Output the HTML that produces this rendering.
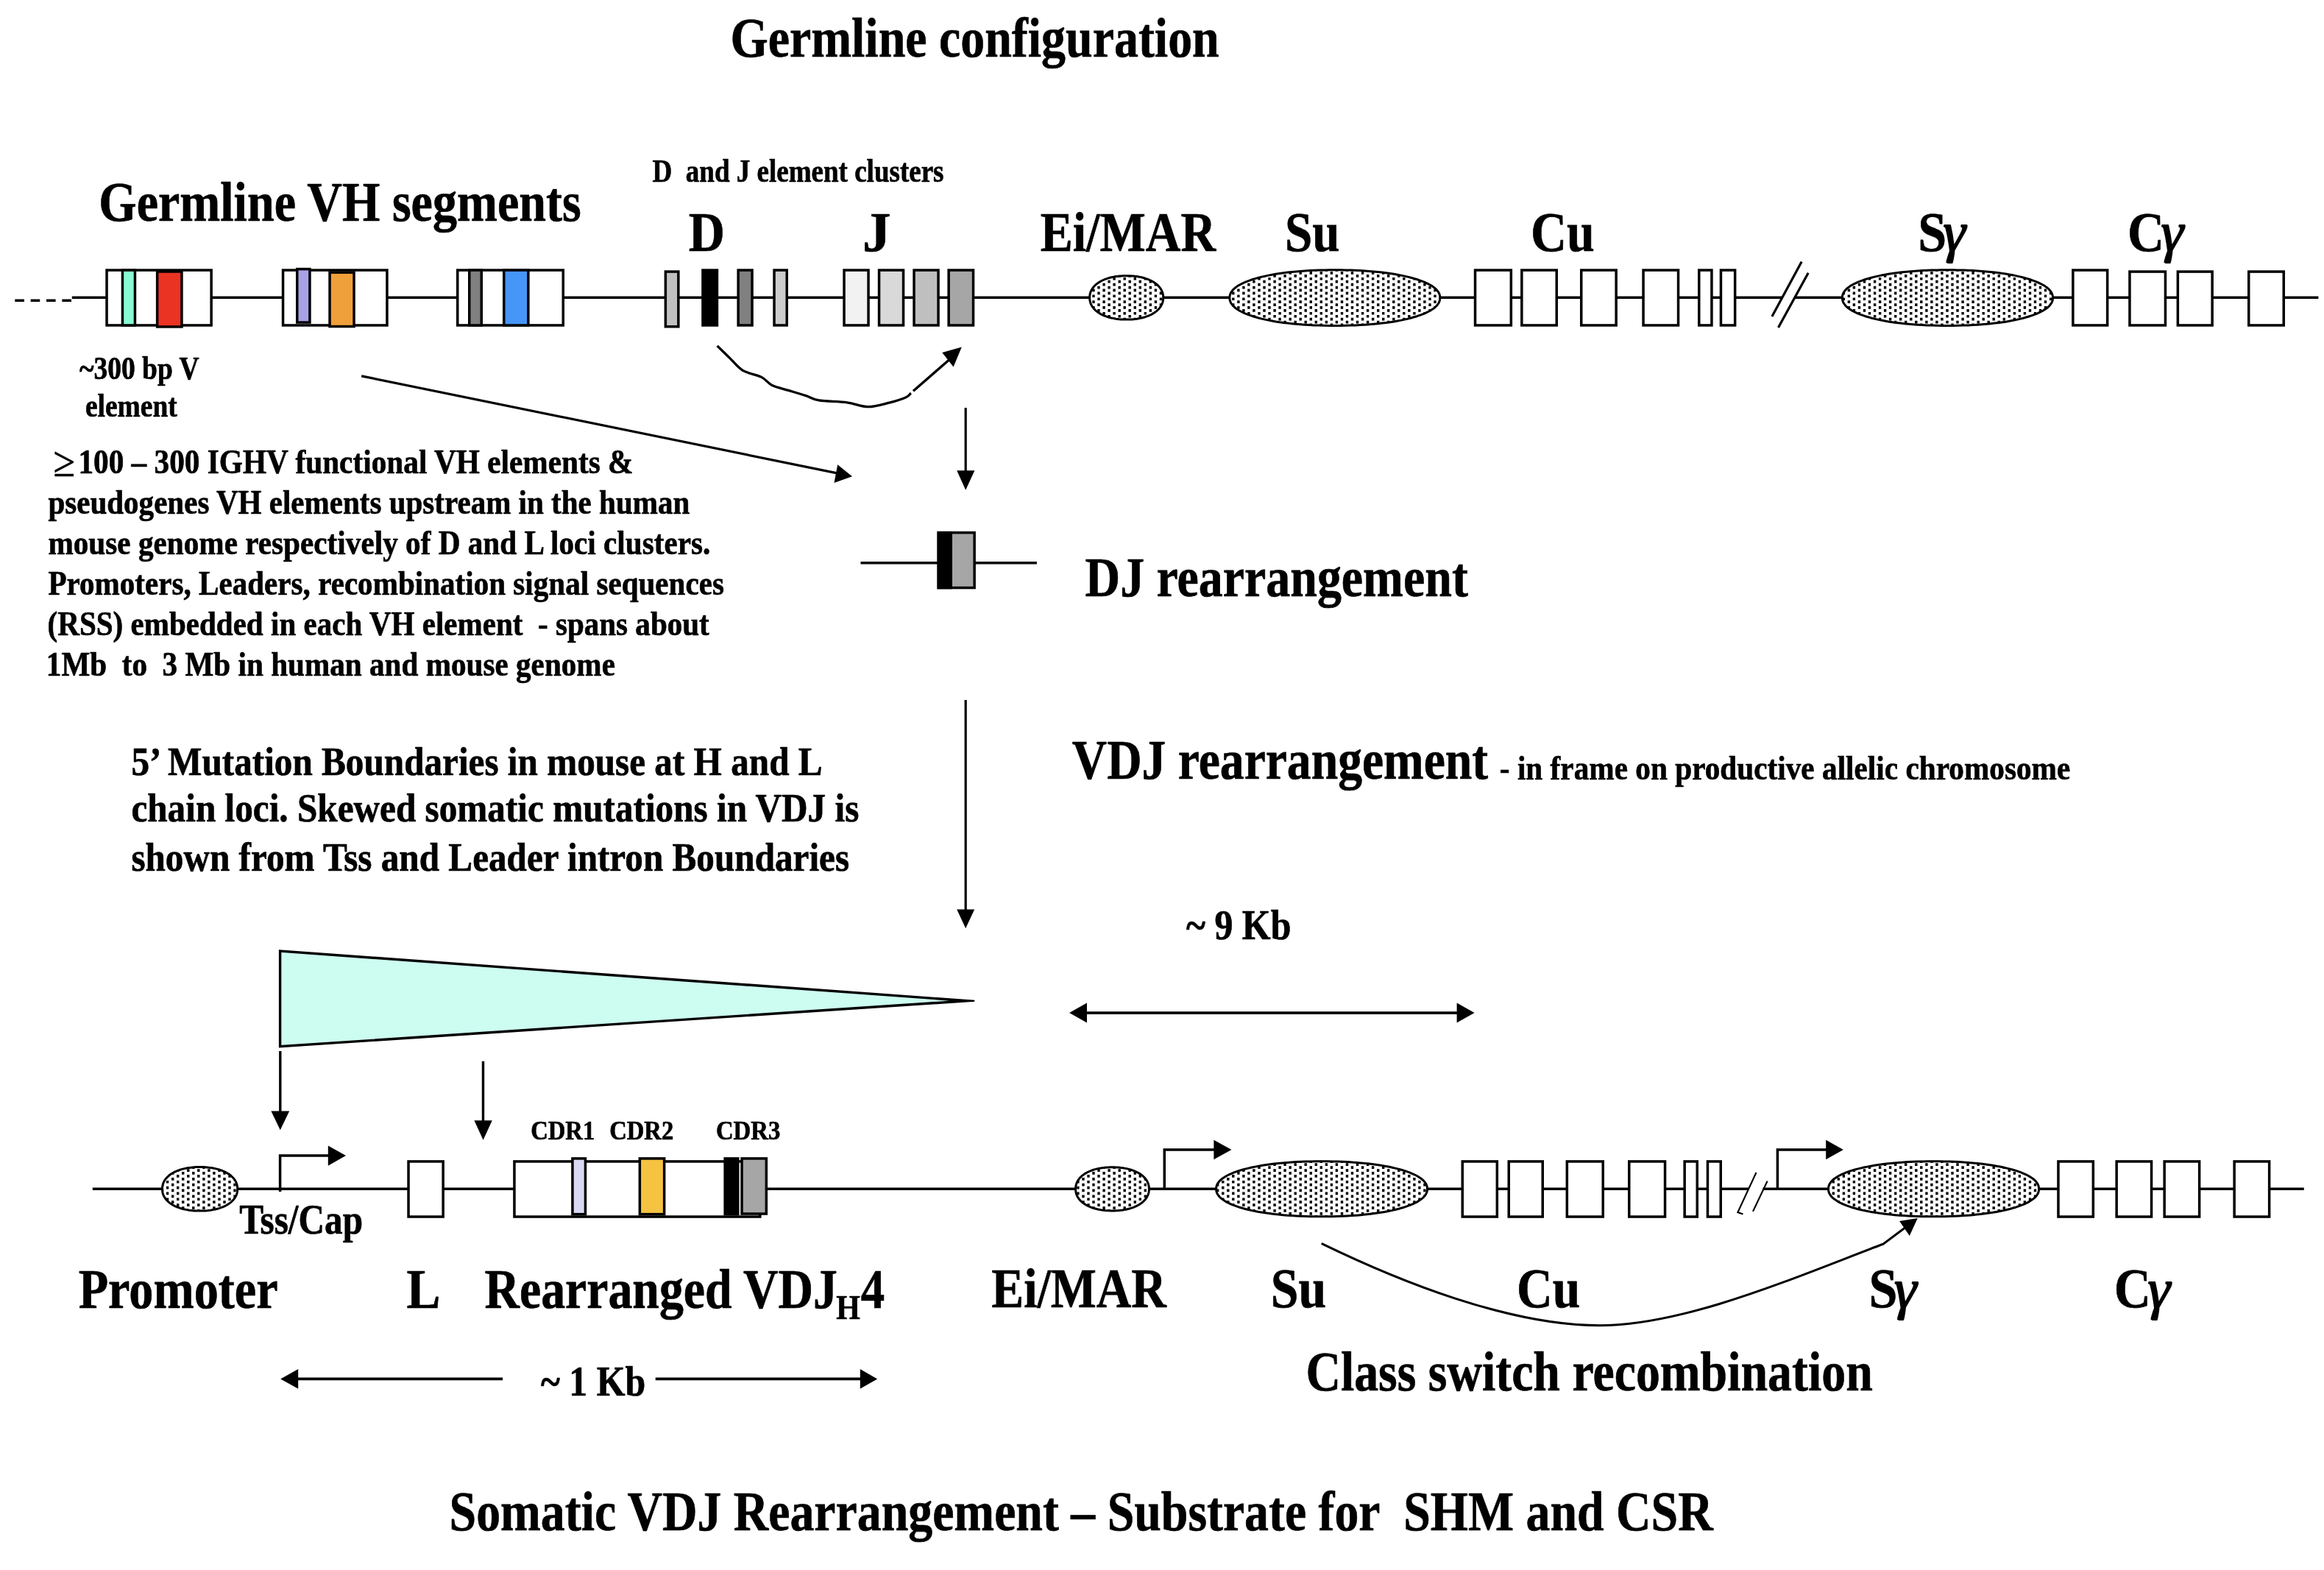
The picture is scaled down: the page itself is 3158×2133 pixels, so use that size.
<!DOCTYPE html>
<html><head><meta charset="utf-8"><title>Germline configuration</title>
<style>html,body{margin:0;padding:0;background:#fff}svg{display:block}text{font-family:"Liberation Serif",serif;font-weight:bold;fill:#000;stroke:#000;stroke-width:0.7px;stroke-linejoin:round;white-space:pre}</style>
</head><body>
<svg width="3158" height="2133" viewBox="0 0 3158 2133">
<defs></defs>
<rect width="3158" height="2133" fill="#fff"/>
<g>
<line x1="20.30" y1="408.25" x2="97.90" y2="408.25" stroke="#000" stroke-width="3.5" stroke-dasharray="12.6 8.75"/>
<line x1="97.80" y1="404.35" x2="2421.50" y2="404.35" stroke="#000" stroke-width="3.5" />
<line x1="2439.00" y1="404.35" x2="3150.40" y2="404.35" stroke="#000" stroke-width="3.5" />
<rect x="145.05" y="367.05" width="142.10" height="74.90" fill="#fff" stroke="#000" stroke-width="3.5"/>
<rect x="166.45" y="367.05" width="17.00" height="74.90" fill="#87fad4" stroke="#000" stroke-width="3.5"/>
<rect x="213.65" y="368.95" width="33.30" height="75.00" fill="#eb3323" stroke="#000" stroke-width="3.5"/>
<rect x="384.55" y="367.05" width="141.40" height="74.90" fill="#fff" stroke="#000" stroke-width="3.5"/>
<rect x="403.75" y="365.55" width="17.20" height="72.50" fill="#a7a2e6" stroke="#000" stroke-width="3.5"/>
<rect x="448.05" y="370.15" width="33.00" height="73.40" fill="#f0a03a" stroke="#000" stroke-width="3.5"/>
<rect x="621.75" y="367.05" width="143.50" height="74.90" fill="#fff" stroke="#000" stroke-width="3.5"/>
<rect x="637.75" y="367.05" width="16.50" height="74.90" fill="#808080" stroke="#000" stroke-width="3.5"/>
<rect x="684.75" y="367.05" width="33.10" height="74.90" fill="#4596f7" stroke="#000" stroke-width="3.5"/>
<rect x="904.35" y="369.05" width="17.50" height="74.70" fill="#c0c0c0" stroke="#000" stroke-width="3.5"/>
<rect x="954.95" y="367.05" width="19.50" height="74.90" fill="#000" stroke="#000" stroke-width="3.5"/>
<rect x="1003.15" y="367.05" width="18.90" height="74.90" fill="#808080" stroke="#000" stroke-width="3.5"/>
<rect x="1052.05" y="367.05" width="17.20" height="74.90" fill="#cccccc" stroke="#000" stroke-width="3.5"/>
<rect x="1147.05" y="367.05" width="33.00" height="74.90" fill="#f2f2f2" stroke="#000" stroke-width="3.5"/>
<rect x="1194.55" y="367.05" width="33.00" height="74.90" fill="#d9d9d9" stroke="#000" stroke-width="3.5"/>
<rect x="1242.05" y="367.05" width="33.00" height="74.90" fill="#bfbfbf" stroke="#000" stroke-width="3.5"/>
<rect x="1289.15" y="367.05" width="33.40" height="74.90" fill="#a6a6a6" stroke="#000" stroke-width="3.5"/>
<defs><path id="e1p" d="M1580.7,404.4L1580.7,406.0L1580.5,407.5L1580.3,408.9L1580.0,410.2L1579.6,411.6L1579.1,412.8L1578.5,414.1L1577.9,415.3L1577.1,416.6L1576.3,417.7L1575.4,418.9L1574.4,420.0L1573.4,421.1L1572.2,422.1L1571.0,423.1L1569.7,424.1L1568.4,425.0L1566.9,425.9L1565.4,426.8L1563.8,427.6L1562.2,428.3L1560.5,429.1L1558.8,429.7L1556.9,430.4L1555.1,431.0L1553.1,431.5L1551.2,432.0L1549.1,432.4L1547.1,432.8L1544.9,433.2L1542.7,433.4L1540.5,433.7L1538.2,433.9L1535.9,434.0L1533.4,434.1L1530.7,434.1L1528.0,434.1L1525.5,434.0L1523.2,433.9L1520.9,433.7L1518.7,433.4L1516.5,433.2L1514.3,432.8L1512.3,432.4L1510.2,432.0L1508.3,431.5L1506.3,431.0L1504.5,430.4L1502.6,429.7L1500.9,429.1L1499.2,428.3L1497.6,427.6L1496.0,426.8L1494.5,425.9L1493.0,425.0L1491.7,424.1L1490.4,423.1L1489.2,422.1L1488.0,421.1L1487.0,420.0L1486.0,418.9L1485.1,417.7L1484.3,416.6L1483.5,415.3L1482.9,414.1L1482.3,412.8L1481.8,411.6L1481.4,410.2L1481.1,408.9L1480.9,407.5L1480.7,406.0L1480.7,404.4L1480.7,402.8L1480.9,401.3L1481.1,399.9L1481.4,398.6L1481.8,397.2L1482.3,396.0L1482.9,394.7L1483.5,393.5L1484.3,392.2L1485.1,391.1L1486.0,389.9L1487.0,388.8L1488.0,387.7L1489.2,386.7L1490.4,385.7L1491.7,384.7L1493.0,383.8L1494.5,382.9L1496.0,382.0L1497.6,381.2L1499.2,380.5L1500.9,379.7L1502.6,379.1L1504.5,378.4L1506.3,377.8L1508.3,377.3L1510.2,376.8L1512.3,376.4L1514.3,376.0L1516.5,375.6L1518.7,375.4L1520.9,375.1L1523.2,374.9L1525.5,374.8L1528.0,374.7L1530.7,374.7L1533.4,374.7L1535.9,374.8L1538.2,374.9L1540.5,375.1L1542.7,375.4L1544.9,375.6L1547.1,376.0L1549.1,376.4L1551.2,376.8L1553.1,377.3L1555.1,377.8L1556.9,378.4L1558.8,379.1L1560.5,379.7L1562.2,380.5L1563.8,381.2L1565.4,382.0L1566.9,382.9L1568.4,383.8L1569.7,384.7L1571.0,385.7L1572.2,386.7L1573.4,387.7L1574.4,388.8L1575.4,389.9L1576.3,391.1L1577.1,392.2L1577.9,393.5L1578.5,394.7L1579.1,396.0L1579.6,397.2L1580.0,398.6L1580.3,399.9L1580.5,401.3L1580.7,402.8Z"/><clipPath id="e1"><use href="#e1p"/></clipPath></defs><use href="#e1p" fill="#fff"/><path clip-path="url(#e1)" d="M1519.5,373.0h3.4v3.7h-3.4zM1533.5,373.0h3.4v3.7h-3.4zM1547.6,373.0h3.4v3.7h-3.4zM1498.4,376.9h3.4v3.7h-3.4zM1512.4,376.9h3.4v3.7h-3.4zM1526.5,376.9h3.4v3.7h-3.4zM1540.6,376.9h3.4v3.7h-3.4zM1554.6,376.9h3.4v3.7h-3.4zM1491.3,380.8h3.4v3.7h-3.4zM1505.4,380.8h3.4v3.7h-3.4zM1519.5,380.8h3.4v3.7h-3.4zM1533.5,380.8h3.4v3.7h-3.4zM1547.6,380.8h3.4v3.7h-3.4zM1561.6,380.8h3.4v3.7h-3.4zM1498.4,384.8h3.4v3.7h-3.4zM1512.4,384.8h3.4v3.7h-3.4zM1526.5,384.8h3.4v3.7h-3.4zM1540.6,384.8h3.4v3.7h-3.4zM1554.6,384.8h3.4v3.7h-3.4zM1568.7,384.8h3.4v3.7h-3.4zM1491.3,388.7h3.4v3.7h-3.4zM1505.4,388.7h3.4v3.7h-3.4zM1519.5,388.7h3.4v3.7h-3.4zM1533.5,388.7h3.4v3.7h-3.4zM1547.6,388.7h3.4v3.7h-3.4zM1561.6,388.7h3.4v3.7h-3.4zM1575.7,388.7h3.4v3.7h-3.4zM1484.3,392.6h3.4v3.7h-3.4zM1498.4,392.6h3.4v3.7h-3.4zM1512.4,392.6h3.4v3.7h-3.4zM1526.5,392.6h3.4v3.7h-3.4zM1540.6,392.6h3.4v3.7h-3.4zM1554.6,392.6h3.4v3.7h-3.4zM1568.7,392.6h3.4v3.7h-3.4zM1477.3,396.5h3.4v3.7h-3.4zM1491.3,396.5h3.4v3.7h-3.4zM1505.4,396.5h3.4v3.7h-3.4zM1519.5,396.5h3.4v3.7h-3.4zM1533.5,396.5h3.4v3.7h-3.4zM1547.6,396.5h3.4v3.7h-3.4zM1561.6,396.5h3.4v3.7h-3.4zM1575.7,396.5h3.4v3.7h-3.4zM1484.3,400.4h3.4v3.7h-3.4zM1498.4,400.4h3.4v3.7h-3.4zM1512.4,400.4h3.4v3.7h-3.4zM1526.5,400.4h3.4v3.7h-3.4zM1540.6,400.4h3.4v3.7h-3.4zM1554.6,400.4h3.4v3.7h-3.4zM1568.7,400.4h3.4v3.7h-3.4zM1477.3,404.4h3.4v3.7h-3.4zM1491.3,404.4h3.4v3.7h-3.4zM1505.4,404.4h3.4v3.7h-3.4zM1519.5,404.4h3.4v3.7h-3.4zM1533.5,404.4h3.4v3.7h-3.4zM1547.6,404.4h3.4v3.7h-3.4zM1561.6,404.4h3.4v3.7h-3.4zM1575.7,404.4h3.4v3.7h-3.4zM1484.3,408.3h3.4v3.7h-3.4zM1498.4,408.3h3.4v3.7h-3.4zM1512.4,408.3h3.4v3.7h-3.4zM1526.5,408.3h3.4v3.7h-3.4zM1540.6,408.3h3.4v3.7h-3.4zM1554.6,408.3h3.4v3.7h-3.4zM1568.7,408.3h3.4v3.7h-3.4zM1491.3,412.2h3.4v3.7h-3.4zM1505.4,412.2h3.4v3.7h-3.4zM1519.5,412.2h3.4v3.7h-3.4zM1533.5,412.2h3.4v3.7h-3.4zM1547.6,412.2h3.4v3.7h-3.4zM1561.6,412.2h3.4v3.7h-3.4zM1575.7,412.2h3.4v3.7h-3.4zM1484.3,416.1h3.4v3.7h-3.4zM1498.4,416.1h3.4v3.7h-3.4zM1512.4,416.1h3.4v3.7h-3.4zM1526.5,416.1h3.4v3.7h-3.4zM1540.6,416.1h3.4v3.7h-3.4zM1554.6,416.1h3.4v3.7h-3.4zM1568.7,416.1h3.4v3.7h-3.4zM1491.3,420.0h3.4v3.7h-3.4zM1505.4,420.0h3.4v3.7h-3.4zM1519.5,420.0h3.4v3.7h-3.4zM1533.5,420.0h3.4v3.7h-3.4zM1547.6,420.0h3.4v3.7h-3.4zM1561.6,420.0h3.4v3.7h-3.4zM1498.4,423.9h3.4v3.7h-3.4zM1512.4,423.9h3.4v3.7h-3.4zM1526.5,423.9h3.4v3.7h-3.4zM1540.6,423.9h3.4v3.7h-3.4zM1554.6,423.9h3.4v3.7h-3.4zM1568.7,423.9h3.4v3.7h-3.4zM1505.4,427.9h3.4v3.7h-3.4zM1519.5,427.9h3.4v3.7h-3.4zM1533.5,427.9h3.4v3.7h-3.4zM1547.6,427.9h3.4v3.7h-3.4zM1561.6,427.9h3.4v3.7h-3.4zM1512.4,431.8h3.4v3.7h-3.4zM1526.5,431.8h3.4v3.7h-3.4zM1540.6,431.8h3.4v3.7h-3.4z" fill="#000"/><use href="#e1p" fill="none" stroke="#000" stroke-width="3.0" stroke-linejoin="round"/>
<defs><path id="e2p" d="M1956.8,404.6L1956.7,406.7L1956.3,408.5L1955.7,410.3L1954.8,412.0L1953.6,413.7L1952.3,415.4L1950.6,417.0L1948.8,418.5L1946.7,420.1L1944.3,421.6L1941.7,423.0L1938.9,424.4L1935.9,425.8L1932.6,427.1L1929.1,428.4L1925.4,429.7L1921.5,430.8L1917.4,432.0L1913.1,433.1L1908.6,434.1L1903.9,435.1L1899.1,436.0L1894.1,436.9L1888.9,437.7L1883.5,438.4L1878.0,439.1L1872.3,439.7L1866.5,440.3L1860.6,440.8L1854.5,441.2L1848.3,441.6L1841.9,441.9L1835.4,442.1L1828.6,442.3L1821.6,442.4L1813.9,442.4L1806.1,442.4L1799.1,442.3L1792.3,442.1L1785.8,441.9L1779.4,441.6L1773.2,441.2L1767.1,440.8L1761.2,440.3L1755.4,439.7L1749.7,439.1L1744.2,438.4L1738.8,437.7L1733.6,436.9L1728.6,436.0L1723.8,435.1L1719.1,434.1L1714.6,433.1L1710.3,432.0L1706.2,430.8L1702.3,429.7L1698.6,428.4L1695.1,427.1L1691.8,425.8L1688.8,424.4L1686.0,423.0L1683.4,421.6L1681.0,420.1L1678.9,418.5L1677.1,417.0L1675.4,415.4L1674.1,413.7L1672.9,412.0L1672.0,410.3L1671.4,408.5L1671.0,406.7L1670.9,404.6L1671.0,402.5L1671.4,400.7L1672.0,398.9L1672.9,397.2L1674.1,395.5L1675.4,393.8L1677.1,392.2L1678.9,390.7L1681.0,389.1L1683.4,387.6L1686.0,386.2L1688.8,384.8L1691.8,383.4L1695.1,382.1L1698.6,380.8L1702.3,379.5L1706.2,378.4L1710.3,377.2L1714.6,376.1L1719.1,375.1L1723.8,374.1L1728.6,373.2L1733.6,372.3L1738.8,371.5L1744.2,370.8L1749.7,370.1L1755.4,369.5L1761.2,368.9L1767.1,368.4L1773.2,368.0L1779.4,367.6L1785.8,367.3L1792.3,367.1L1799.1,366.9L1806.1,366.8L1813.8,366.8L1821.6,366.8L1828.6,366.9L1835.4,367.1L1841.9,367.3L1848.3,367.6L1854.5,368.0L1860.6,368.4L1866.5,368.9L1872.3,369.5L1878.0,370.1L1883.5,370.8L1888.9,371.5L1894.1,372.3L1899.1,373.2L1903.9,374.1L1908.6,375.1L1913.1,376.1L1917.4,377.2L1921.5,378.4L1925.4,379.5L1929.1,380.8L1932.6,382.1L1935.9,383.4L1938.9,384.8L1941.7,386.2L1944.3,387.6L1946.7,389.1L1948.8,390.7L1950.6,392.2L1952.3,393.8L1953.6,395.5L1954.8,397.2L1955.7,398.9L1956.3,400.7L1956.7,402.5Z"/><clipPath id="e2"><use href="#e2p"/></clipPath></defs><use href="#e2p" fill="#fff"/><path clip-path="url(#e2)" d="M1758.5,365.1h3.4v3.7h-3.4zM1772.5,365.1h3.4v3.7h-3.4zM1786.6,365.1h3.4v3.7h-3.4zM1800.7,365.1h3.4v3.7h-3.4zM1814.7,365.1h3.4v3.7h-3.4zM1828.8,365.1h3.4v3.7h-3.4zM1842.8,365.1h3.4v3.7h-3.4zM1856.9,365.1h3.4v3.7h-3.4zM1737.4,369.1h3.4v3.7h-3.4zM1751.5,369.1h3.4v3.7h-3.4zM1765.5,369.1h3.4v3.7h-3.4zM1779.6,369.1h3.4v3.7h-3.4zM1793.6,369.1h3.4v3.7h-3.4zM1807.7,369.1h3.4v3.7h-3.4zM1821.8,369.1h3.4v3.7h-3.4zM1835.8,369.1h3.4v3.7h-3.4zM1849.9,369.1h3.4v3.7h-3.4zM1863.9,369.1h3.4v3.7h-3.4zM1878.0,369.1h3.4v3.7h-3.4zM1892.1,369.1h3.4v3.7h-3.4zM1716.3,373.0h3.4v3.7h-3.4zM1730.4,373.0h3.4v3.7h-3.4zM1744.4,373.0h3.4v3.7h-3.4zM1758.5,373.0h3.4v3.7h-3.4zM1772.5,373.0h3.4v3.7h-3.4zM1786.6,373.0h3.4v3.7h-3.4zM1800.7,373.0h3.4v3.7h-3.4zM1814.7,373.0h3.4v3.7h-3.4zM1828.8,373.0h3.4v3.7h-3.4zM1842.8,373.0h3.4v3.7h-3.4zM1856.9,373.0h3.4v3.7h-3.4zM1871.0,373.0h3.4v3.7h-3.4zM1885.0,373.0h3.4v3.7h-3.4zM1899.1,373.0h3.4v3.7h-3.4zM1709.3,376.9h3.4v3.7h-3.4zM1723.3,376.9h3.4v3.7h-3.4zM1737.4,376.9h3.4v3.7h-3.4zM1751.5,376.9h3.4v3.7h-3.4zM1765.5,376.9h3.4v3.7h-3.4zM1779.6,376.9h3.4v3.7h-3.4zM1793.6,376.9h3.4v3.7h-3.4zM1807.7,376.9h3.4v3.7h-3.4zM1821.8,376.9h3.4v3.7h-3.4zM1835.8,376.9h3.4v3.7h-3.4zM1849.9,376.9h3.4v3.7h-3.4zM1863.9,376.9h3.4v3.7h-3.4zM1878.0,376.9h3.4v3.7h-3.4zM1892.1,376.9h3.4v3.7h-3.4zM1906.1,376.9h3.4v3.7h-3.4zM1920.2,376.9h3.4v3.7h-3.4zM1702.2,380.8h3.4v3.7h-3.4zM1716.3,380.8h3.4v3.7h-3.4zM1730.4,380.8h3.4v3.7h-3.4zM1744.4,380.8h3.4v3.7h-3.4zM1758.5,380.8h3.4v3.7h-3.4zM1772.5,380.8h3.4v3.7h-3.4zM1786.6,380.8h3.4v3.7h-3.4zM1800.7,380.8h3.4v3.7h-3.4zM1814.7,380.8h3.4v3.7h-3.4zM1828.8,380.8h3.4v3.7h-3.4zM1842.8,380.8h3.4v3.7h-3.4zM1856.9,380.8h3.4v3.7h-3.4zM1871.0,380.8h3.4v3.7h-3.4zM1885.0,380.8h3.4v3.7h-3.4zM1899.1,380.8h3.4v3.7h-3.4zM1913.1,380.8h3.4v3.7h-3.4zM1927.2,380.8h3.4v3.7h-3.4zM1695.2,384.8h3.4v3.7h-3.4zM1709.3,384.8h3.4v3.7h-3.4zM1723.3,384.8h3.4v3.7h-3.4zM1737.4,384.8h3.4v3.7h-3.4zM1751.5,384.8h3.4v3.7h-3.4zM1765.5,384.8h3.4v3.7h-3.4zM1779.6,384.8h3.4v3.7h-3.4zM1793.6,384.8h3.4v3.7h-3.4zM1807.7,384.8h3.4v3.7h-3.4zM1821.8,384.8h3.4v3.7h-3.4zM1835.8,384.8h3.4v3.7h-3.4zM1849.9,384.8h3.4v3.7h-3.4zM1863.9,384.8h3.4v3.7h-3.4zM1878.0,384.8h3.4v3.7h-3.4zM1892.1,384.8h3.4v3.7h-3.4zM1906.1,384.8h3.4v3.7h-3.4zM1920.2,384.8h3.4v3.7h-3.4zM1934.2,384.8h3.4v3.7h-3.4zM1688.2,388.7h3.4v3.7h-3.4zM1702.2,388.7h3.4v3.7h-3.4zM1716.3,388.7h3.4v3.7h-3.4zM1730.4,388.7h3.4v3.7h-3.4zM1744.4,388.7h3.4v3.7h-3.4zM1758.5,388.7h3.4v3.7h-3.4zM1772.5,388.7h3.4v3.7h-3.4zM1786.6,388.7h3.4v3.7h-3.4zM1800.7,388.7h3.4v3.7h-3.4zM1814.7,388.7h3.4v3.7h-3.4zM1828.8,388.7h3.4v3.7h-3.4zM1842.8,388.7h3.4v3.7h-3.4zM1856.9,388.7h3.4v3.7h-3.4zM1871.0,388.7h3.4v3.7h-3.4zM1885.0,388.7h3.4v3.7h-3.4zM1899.1,388.7h3.4v3.7h-3.4zM1913.1,388.7h3.4v3.7h-3.4zM1927.2,388.7h3.4v3.7h-3.4zM1941.3,388.7h3.4v3.7h-3.4zM1681.2,392.6h3.4v3.7h-3.4zM1695.2,392.6h3.4v3.7h-3.4zM1709.3,392.6h3.4v3.7h-3.4zM1723.3,392.6h3.4v3.7h-3.4zM1737.4,392.6h3.4v3.7h-3.4zM1751.5,392.6h3.4v3.7h-3.4zM1765.5,392.6h3.4v3.7h-3.4zM1779.6,392.6h3.4v3.7h-3.4zM1793.6,392.6h3.4v3.7h-3.4zM1807.7,392.6h3.4v3.7h-3.4zM1821.8,392.6h3.4v3.7h-3.4zM1835.8,392.6h3.4v3.7h-3.4zM1849.9,392.6h3.4v3.7h-3.4zM1863.9,392.6h3.4v3.7h-3.4zM1878.0,392.6h3.4v3.7h-3.4zM1892.1,392.6h3.4v3.7h-3.4zM1906.1,392.6h3.4v3.7h-3.4zM1920.2,392.6h3.4v3.7h-3.4zM1934.2,392.6h3.4v3.7h-3.4zM1948.3,392.6h3.4v3.7h-3.4zM1674.1,396.5h3.4v3.7h-3.4zM1688.2,396.5h3.4v3.7h-3.4zM1702.2,396.5h3.4v3.7h-3.4zM1716.3,396.5h3.4v3.7h-3.4zM1730.4,396.5h3.4v3.7h-3.4zM1744.4,396.5h3.4v3.7h-3.4zM1758.5,396.5h3.4v3.7h-3.4zM1772.5,396.5h3.4v3.7h-3.4zM1786.6,396.5h3.4v3.7h-3.4zM1800.7,396.5h3.4v3.7h-3.4zM1814.7,396.5h3.4v3.7h-3.4zM1828.8,396.5h3.4v3.7h-3.4zM1842.8,396.5h3.4v3.7h-3.4zM1856.9,396.5h3.4v3.7h-3.4zM1871.0,396.5h3.4v3.7h-3.4zM1885.0,396.5h3.4v3.7h-3.4zM1899.1,396.5h3.4v3.7h-3.4zM1913.1,396.5h3.4v3.7h-3.4zM1927.2,396.5h3.4v3.7h-3.4zM1941.3,396.5h3.4v3.7h-3.4zM1955.3,396.5h3.4v3.7h-3.4zM1667.1,400.4h3.4v3.7h-3.4zM1681.2,400.4h3.4v3.7h-3.4zM1695.2,400.4h3.4v3.7h-3.4zM1709.3,400.4h3.4v3.7h-3.4zM1723.3,400.4h3.4v3.7h-3.4zM1737.4,400.4h3.4v3.7h-3.4zM1751.5,400.4h3.4v3.7h-3.4zM1765.5,400.4h3.4v3.7h-3.4zM1779.6,400.4h3.4v3.7h-3.4zM1793.6,400.4h3.4v3.7h-3.4zM1807.7,400.4h3.4v3.7h-3.4zM1821.8,400.4h3.4v3.7h-3.4zM1835.8,400.4h3.4v3.7h-3.4zM1849.9,400.4h3.4v3.7h-3.4zM1863.9,400.4h3.4v3.7h-3.4zM1878.0,400.4h3.4v3.7h-3.4zM1892.1,400.4h3.4v3.7h-3.4zM1906.1,400.4h3.4v3.7h-3.4zM1920.2,400.4h3.4v3.7h-3.4zM1934.2,400.4h3.4v3.7h-3.4zM1948.3,400.4h3.4v3.7h-3.4zM1674.1,404.4h3.4v3.7h-3.4zM1688.2,404.4h3.4v3.7h-3.4zM1702.2,404.4h3.4v3.7h-3.4zM1716.3,404.4h3.4v3.7h-3.4zM1730.4,404.4h3.4v3.7h-3.4zM1744.4,404.4h3.4v3.7h-3.4zM1758.5,404.4h3.4v3.7h-3.4zM1772.5,404.4h3.4v3.7h-3.4zM1786.6,404.4h3.4v3.7h-3.4zM1800.7,404.4h3.4v3.7h-3.4zM1814.7,404.4h3.4v3.7h-3.4zM1828.8,404.4h3.4v3.7h-3.4zM1842.8,404.4h3.4v3.7h-3.4zM1856.9,404.4h3.4v3.7h-3.4zM1871.0,404.4h3.4v3.7h-3.4zM1885.0,404.4h3.4v3.7h-3.4zM1899.1,404.4h3.4v3.7h-3.4zM1913.1,404.4h3.4v3.7h-3.4zM1927.2,404.4h3.4v3.7h-3.4zM1941.3,404.4h3.4v3.7h-3.4zM1955.3,404.4h3.4v3.7h-3.4zM1681.2,408.3h3.4v3.7h-3.4zM1695.2,408.3h3.4v3.7h-3.4zM1709.3,408.3h3.4v3.7h-3.4zM1723.3,408.3h3.4v3.7h-3.4zM1737.4,408.3h3.4v3.7h-3.4zM1751.5,408.3h3.4v3.7h-3.4zM1765.5,408.3h3.4v3.7h-3.4zM1779.6,408.3h3.4v3.7h-3.4zM1793.6,408.3h3.4v3.7h-3.4zM1807.7,408.3h3.4v3.7h-3.4zM1821.8,408.3h3.4v3.7h-3.4zM1835.8,408.3h3.4v3.7h-3.4zM1849.9,408.3h3.4v3.7h-3.4zM1863.9,408.3h3.4v3.7h-3.4zM1878.0,408.3h3.4v3.7h-3.4zM1892.1,408.3h3.4v3.7h-3.4zM1906.1,408.3h3.4v3.7h-3.4zM1920.2,408.3h3.4v3.7h-3.4zM1934.2,408.3h3.4v3.7h-3.4zM1948.3,408.3h3.4v3.7h-3.4zM1674.1,412.2h3.4v3.7h-3.4zM1688.2,412.2h3.4v3.7h-3.4zM1702.2,412.2h3.4v3.7h-3.4zM1716.3,412.2h3.4v3.7h-3.4zM1730.4,412.2h3.4v3.7h-3.4zM1744.4,412.2h3.4v3.7h-3.4zM1758.5,412.2h3.4v3.7h-3.4zM1772.5,412.2h3.4v3.7h-3.4zM1786.6,412.2h3.4v3.7h-3.4zM1800.7,412.2h3.4v3.7h-3.4zM1814.7,412.2h3.4v3.7h-3.4zM1828.8,412.2h3.4v3.7h-3.4zM1842.8,412.2h3.4v3.7h-3.4zM1856.9,412.2h3.4v3.7h-3.4zM1871.0,412.2h3.4v3.7h-3.4zM1885.0,412.2h3.4v3.7h-3.4zM1899.1,412.2h3.4v3.7h-3.4zM1913.1,412.2h3.4v3.7h-3.4zM1927.2,412.2h3.4v3.7h-3.4zM1941.3,412.2h3.4v3.7h-3.4zM1681.2,416.1h3.4v3.7h-3.4zM1695.2,416.1h3.4v3.7h-3.4zM1709.3,416.1h3.4v3.7h-3.4zM1723.3,416.1h3.4v3.7h-3.4zM1737.4,416.1h3.4v3.7h-3.4zM1751.5,416.1h3.4v3.7h-3.4zM1765.5,416.1h3.4v3.7h-3.4zM1779.6,416.1h3.4v3.7h-3.4zM1793.6,416.1h3.4v3.7h-3.4zM1807.7,416.1h3.4v3.7h-3.4zM1821.8,416.1h3.4v3.7h-3.4zM1835.8,416.1h3.4v3.7h-3.4zM1849.9,416.1h3.4v3.7h-3.4zM1863.9,416.1h3.4v3.7h-3.4zM1878.0,416.1h3.4v3.7h-3.4zM1892.1,416.1h3.4v3.7h-3.4zM1906.1,416.1h3.4v3.7h-3.4zM1920.2,416.1h3.4v3.7h-3.4zM1934.2,416.1h3.4v3.7h-3.4zM1948.3,416.1h3.4v3.7h-3.4zM1688.2,420.0h3.4v3.7h-3.4zM1702.2,420.0h3.4v3.7h-3.4zM1716.3,420.0h3.4v3.7h-3.4zM1730.4,420.0h3.4v3.7h-3.4zM1744.4,420.0h3.4v3.7h-3.4zM1758.5,420.0h3.4v3.7h-3.4zM1772.5,420.0h3.4v3.7h-3.4zM1786.6,420.0h3.4v3.7h-3.4zM1800.7,420.0h3.4v3.7h-3.4zM1814.7,420.0h3.4v3.7h-3.4zM1828.8,420.0h3.4v3.7h-3.4zM1842.8,420.0h3.4v3.7h-3.4zM1856.9,420.0h3.4v3.7h-3.4zM1871.0,420.0h3.4v3.7h-3.4zM1885.0,420.0h3.4v3.7h-3.4zM1899.1,420.0h3.4v3.7h-3.4zM1913.1,420.0h3.4v3.7h-3.4zM1927.2,420.0h3.4v3.7h-3.4zM1941.3,420.0h3.4v3.7h-3.4zM1695.2,423.9h3.4v3.7h-3.4zM1709.3,423.9h3.4v3.7h-3.4zM1723.3,423.9h3.4v3.7h-3.4zM1737.4,423.9h3.4v3.7h-3.4zM1751.5,423.9h3.4v3.7h-3.4zM1765.5,423.9h3.4v3.7h-3.4zM1779.6,423.9h3.4v3.7h-3.4zM1793.6,423.9h3.4v3.7h-3.4zM1807.7,423.9h3.4v3.7h-3.4zM1821.8,423.9h3.4v3.7h-3.4zM1835.8,423.9h3.4v3.7h-3.4zM1849.9,423.9h3.4v3.7h-3.4zM1863.9,423.9h3.4v3.7h-3.4zM1878.0,423.9h3.4v3.7h-3.4zM1892.1,423.9h3.4v3.7h-3.4zM1906.1,423.9h3.4v3.7h-3.4zM1920.2,423.9h3.4v3.7h-3.4zM1934.2,423.9h3.4v3.7h-3.4zM1702.2,427.9h3.4v3.7h-3.4zM1716.3,427.9h3.4v3.7h-3.4zM1730.4,427.9h3.4v3.7h-3.4zM1744.4,427.9h3.4v3.7h-3.4zM1758.5,427.9h3.4v3.7h-3.4zM1772.5,427.9h3.4v3.7h-3.4zM1786.6,427.9h3.4v3.7h-3.4zM1800.7,427.9h3.4v3.7h-3.4zM1814.7,427.9h3.4v3.7h-3.4zM1828.8,427.9h3.4v3.7h-3.4zM1842.8,427.9h3.4v3.7h-3.4zM1856.9,427.9h3.4v3.7h-3.4zM1871.0,427.9h3.4v3.7h-3.4zM1885.0,427.9h3.4v3.7h-3.4zM1899.1,427.9h3.4v3.7h-3.4zM1913.1,427.9h3.4v3.7h-3.4zM1723.3,431.8h3.4v3.7h-3.4zM1737.4,431.8h3.4v3.7h-3.4zM1751.5,431.8h3.4v3.7h-3.4zM1765.5,431.8h3.4v3.7h-3.4zM1779.6,431.8h3.4v3.7h-3.4zM1793.6,431.8h3.4v3.7h-3.4zM1807.7,431.8h3.4v3.7h-3.4zM1821.8,431.8h3.4v3.7h-3.4zM1835.8,431.8h3.4v3.7h-3.4zM1849.9,431.8h3.4v3.7h-3.4zM1863.9,431.8h3.4v3.7h-3.4zM1878.0,431.8h3.4v3.7h-3.4zM1892.1,431.8h3.4v3.7h-3.4zM1906.1,431.8h3.4v3.7h-3.4zM1730.4,435.7h3.4v3.7h-3.4zM1744.4,435.7h3.4v3.7h-3.4zM1758.5,435.7h3.4v3.7h-3.4zM1772.5,435.7h3.4v3.7h-3.4zM1786.6,435.7h3.4v3.7h-3.4zM1800.7,435.7h3.4v3.7h-3.4zM1814.7,435.7h3.4v3.7h-3.4zM1828.8,435.7h3.4v3.7h-3.4zM1842.8,435.7h3.4v3.7h-3.4zM1856.9,435.7h3.4v3.7h-3.4zM1871.0,435.7h3.4v3.7h-3.4zM1885.0,435.7h3.4v3.7h-3.4zM1751.5,439.6h3.4v3.7h-3.4zM1765.5,439.6h3.4v3.7h-3.4zM1779.6,439.6h3.4v3.7h-3.4zM1793.6,439.6h3.4v3.7h-3.4zM1807.7,439.6h3.4v3.7h-3.4zM1821.8,439.6h3.4v3.7h-3.4zM1835.8,439.6h3.4v3.7h-3.4zM1849.9,439.6h3.4v3.7h-3.4zM1863.9,439.6h3.4v3.7h-3.4z" fill="#000"/><use href="#e2p" fill="none" stroke="#000" stroke-width="3.0" stroke-linejoin="round"/>
<defs><path id="e3p" d="M2789.5,404.6L2789.4,406.7L2789.0,408.5L2788.4,410.3L2787.5,412.0L2786.3,413.7L2785.0,415.4L2783.3,417.0L2781.5,418.5L2779.3,420.1L2777.0,421.6L2774.4,423.0L2771.6,424.4L2768.5,425.8L2765.3,427.1L2761.8,428.4L2758.1,429.7L2754.2,430.8L2750.1,432.0L2745.8,433.1L2741.3,434.1L2736.6,435.1L2731.7,436.0L2726.7,436.9L2721.5,437.7L2716.2,438.4L2710.6,439.1L2705.0,439.7L2699.2,440.3L2693.2,440.8L2687.1,441.2L2680.9,441.6L2674.5,441.9L2668.0,442.1L2661.2,442.3L2654.2,442.4L2646.4,442.4L2638.7,442.4L2631.7,442.3L2624.9,442.1L2618.4,441.9L2612.0,441.6L2605.8,441.2L2599.7,440.8L2593.7,440.3L2587.9,439.7L2582.3,439.1L2576.7,438.4L2571.4,437.7L2566.2,436.9L2561.2,436.0L2556.3,435.1L2551.6,434.1L2547.1,433.1L2542.8,432.0L2538.7,430.8L2534.8,429.7L2531.1,428.4L2527.6,427.1L2524.4,425.8L2521.3,424.4L2518.5,423.0L2515.9,421.6L2513.6,420.1L2511.4,418.5L2509.6,417.0L2507.9,415.4L2506.6,413.7L2505.4,412.0L2504.5,410.3L2503.9,408.5L2503.5,406.7L2503.4,404.6L2503.5,402.5L2503.9,400.7L2504.5,398.9L2505.4,397.2L2506.6,395.5L2507.9,393.8L2509.6,392.2L2511.4,390.7L2513.6,389.1L2515.9,387.6L2518.5,386.2L2521.3,384.8L2524.4,383.4L2527.6,382.1L2531.1,380.8L2534.8,379.5L2538.7,378.4L2542.8,377.2L2547.1,376.1L2551.6,375.1L2556.3,374.1L2561.2,373.2L2566.2,372.3L2571.4,371.5L2576.7,370.8L2582.3,370.1L2587.9,369.5L2593.7,368.9L2599.7,368.4L2605.8,368.0L2612.0,367.6L2618.4,367.3L2624.9,367.1L2631.7,366.9L2638.7,366.8L2646.4,366.8L2654.2,366.8L2661.2,366.9L2668.0,367.1L2674.5,367.3L2680.9,367.6L2687.1,368.0L2693.2,368.4L2699.2,368.9L2705.0,369.5L2710.6,370.1L2716.2,370.8L2721.5,371.5L2726.7,372.3L2731.7,373.2L2736.6,374.1L2741.3,375.1L2745.8,376.1L2750.1,377.2L2754.2,378.4L2758.1,379.5L2761.8,380.8L2765.3,382.1L2768.5,383.4L2771.6,384.8L2774.4,386.2L2777.0,387.6L2779.3,389.1L2781.5,390.7L2783.3,392.2L2785.0,393.8L2786.3,395.5L2787.5,397.2L2788.4,398.9L2789.0,400.7L2789.4,402.5Z"/><clipPath id="e3"><use href="#e3p"/></clipPath></defs><use href="#e3p" fill="#fff"/><path clip-path="url(#e3)" d="M2602.1,365.1h3.4v3.7h-3.4zM2616.2,365.1h3.4v3.7h-3.4zM2630.2,365.1h3.4v3.7h-3.4zM2644.3,365.1h3.4v3.7h-3.4zM2658.3,365.1h3.4v3.7h-3.4zM2672.4,365.1h3.4v3.7h-3.4zM2686.5,365.1h3.4v3.7h-3.4zM2700.5,365.1h3.4v3.7h-3.4zM2566.9,369.1h3.4v3.7h-3.4zM2581.0,369.1h3.4v3.7h-3.4zM2595.1,369.1h3.4v3.7h-3.4zM2609.1,369.1h3.4v3.7h-3.4zM2623.2,369.1h3.4v3.7h-3.4zM2637.2,369.1h3.4v3.7h-3.4zM2651.3,369.1h3.4v3.7h-3.4zM2665.4,369.1h3.4v3.7h-3.4zM2679.4,369.1h3.4v3.7h-3.4zM2693.5,369.1h3.4v3.7h-3.4zM2707.5,369.1h3.4v3.7h-3.4zM2721.6,369.1h3.4v3.7h-3.4zM2545.9,373.0h3.4v3.7h-3.4zM2559.9,373.0h3.4v3.7h-3.4zM2574.0,373.0h3.4v3.7h-3.4zM2588.0,373.0h3.4v3.7h-3.4zM2602.1,373.0h3.4v3.7h-3.4zM2616.2,373.0h3.4v3.7h-3.4zM2630.2,373.0h3.4v3.7h-3.4zM2644.3,373.0h3.4v3.7h-3.4zM2658.3,373.0h3.4v3.7h-3.4zM2672.4,373.0h3.4v3.7h-3.4zM2686.5,373.0h3.4v3.7h-3.4zM2700.5,373.0h3.4v3.7h-3.4zM2714.6,373.0h3.4v3.7h-3.4zM2728.6,373.0h3.4v3.7h-3.4zM2742.7,373.0h3.4v3.7h-3.4zM2538.8,376.9h3.4v3.7h-3.4zM2552.9,376.9h3.4v3.7h-3.4zM2566.9,376.9h3.4v3.7h-3.4zM2581.0,376.9h3.4v3.7h-3.4zM2595.1,376.9h3.4v3.7h-3.4zM2609.1,376.9h3.4v3.7h-3.4zM2623.2,376.9h3.4v3.7h-3.4zM2637.2,376.9h3.4v3.7h-3.4zM2651.3,376.9h3.4v3.7h-3.4zM2665.4,376.9h3.4v3.7h-3.4zM2679.4,376.9h3.4v3.7h-3.4zM2693.5,376.9h3.4v3.7h-3.4zM2707.5,376.9h3.4v3.7h-3.4zM2721.6,376.9h3.4v3.7h-3.4zM2735.7,376.9h3.4v3.7h-3.4zM2749.7,376.9h3.4v3.7h-3.4zM2531.8,380.8h3.4v3.7h-3.4zM2545.9,380.8h3.4v3.7h-3.4zM2559.9,380.8h3.4v3.7h-3.4zM2574.0,380.8h3.4v3.7h-3.4zM2588.0,380.8h3.4v3.7h-3.4zM2602.1,380.8h3.4v3.7h-3.4zM2616.2,380.8h3.4v3.7h-3.4zM2630.2,380.8h3.4v3.7h-3.4zM2644.3,380.8h3.4v3.7h-3.4zM2658.3,380.8h3.4v3.7h-3.4zM2672.4,380.8h3.4v3.7h-3.4zM2686.5,380.8h3.4v3.7h-3.4zM2700.5,380.8h3.4v3.7h-3.4zM2714.6,380.8h3.4v3.7h-3.4zM2728.6,380.8h3.4v3.7h-3.4zM2742.7,380.8h3.4v3.7h-3.4zM2756.8,380.8h3.4v3.7h-3.4zM2524.8,384.8h3.4v3.7h-3.4zM2538.8,384.8h3.4v3.7h-3.4zM2552.9,384.8h3.4v3.7h-3.4zM2566.9,384.8h3.4v3.7h-3.4zM2581.0,384.8h3.4v3.7h-3.4zM2595.1,384.8h3.4v3.7h-3.4zM2609.1,384.8h3.4v3.7h-3.4zM2623.2,384.8h3.4v3.7h-3.4zM2637.2,384.8h3.4v3.7h-3.4zM2651.3,384.8h3.4v3.7h-3.4zM2665.4,384.8h3.4v3.7h-3.4zM2679.4,384.8h3.4v3.7h-3.4zM2693.5,384.8h3.4v3.7h-3.4zM2707.5,384.8h3.4v3.7h-3.4zM2721.6,384.8h3.4v3.7h-3.4zM2735.7,384.8h3.4v3.7h-3.4zM2749.7,384.8h3.4v3.7h-3.4zM2763.8,384.8h3.4v3.7h-3.4zM2517.7,388.7h3.4v3.7h-3.4zM2531.8,388.7h3.4v3.7h-3.4zM2545.9,388.7h3.4v3.7h-3.4zM2559.9,388.7h3.4v3.7h-3.4zM2574.0,388.7h3.4v3.7h-3.4zM2588.0,388.7h3.4v3.7h-3.4zM2602.1,388.7h3.4v3.7h-3.4zM2616.2,388.7h3.4v3.7h-3.4zM2630.2,388.7h3.4v3.7h-3.4zM2644.3,388.7h3.4v3.7h-3.4zM2658.3,388.7h3.4v3.7h-3.4zM2672.4,388.7h3.4v3.7h-3.4zM2686.5,388.7h3.4v3.7h-3.4zM2700.5,388.7h3.4v3.7h-3.4zM2714.6,388.7h3.4v3.7h-3.4zM2728.6,388.7h3.4v3.7h-3.4zM2742.7,388.7h3.4v3.7h-3.4zM2756.8,388.7h3.4v3.7h-3.4zM2770.8,388.7h3.4v3.7h-3.4zM2510.7,392.6h3.4v3.7h-3.4zM2524.8,392.6h3.4v3.7h-3.4zM2538.8,392.6h3.4v3.7h-3.4zM2552.9,392.6h3.4v3.7h-3.4zM2566.9,392.6h3.4v3.7h-3.4zM2581.0,392.6h3.4v3.7h-3.4zM2595.1,392.6h3.4v3.7h-3.4zM2609.1,392.6h3.4v3.7h-3.4zM2623.2,392.6h3.4v3.7h-3.4zM2637.2,392.6h3.4v3.7h-3.4zM2651.3,392.6h3.4v3.7h-3.4zM2665.4,392.6h3.4v3.7h-3.4zM2679.4,392.6h3.4v3.7h-3.4zM2693.5,392.6h3.4v3.7h-3.4zM2707.5,392.6h3.4v3.7h-3.4zM2721.6,392.6h3.4v3.7h-3.4zM2735.7,392.6h3.4v3.7h-3.4zM2749.7,392.6h3.4v3.7h-3.4zM2763.8,392.6h3.4v3.7h-3.4zM2777.8,392.6h3.4v3.7h-3.4zM2503.7,396.5h3.4v3.7h-3.4zM2517.7,396.5h3.4v3.7h-3.4zM2531.8,396.5h3.4v3.7h-3.4zM2545.9,396.5h3.4v3.7h-3.4zM2559.9,396.5h3.4v3.7h-3.4zM2574.0,396.5h3.4v3.7h-3.4zM2588.0,396.5h3.4v3.7h-3.4zM2602.1,396.5h3.4v3.7h-3.4zM2616.2,396.5h3.4v3.7h-3.4zM2630.2,396.5h3.4v3.7h-3.4zM2644.3,396.5h3.4v3.7h-3.4zM2658.3,396.5h3.4v3.7h-3.4zM2672.4,396.5h3.4v3.7h-3.4zM2686.5,396.5h3.4v3.7h-3.4zM2700.5,396.5h3.4v3.7h-3.4zM2714.6,396.5h3.4v3.7h-3.4zM2728.6,396.5h3.4v3.7h-3.4zM2742.7,396.5h3.4v3.7h-3.4zM2756.8,396.5h3.4v3.7h-3.4zM2770.8,396.5h3.4v3.7h-3.4zM2784.9,396.5h3.4v3.7h-3.4zM2510.7,400.4h3.4v3.7h-3.4zM2524.8,400.4h3.4v3.7h-3.4zM2538.8,400.4h3.4v3.7h-3.4zM2552.9,400.4h3.4v3.7h-3.4zM2566.9,400.4h3.4v3.7h-3.4zM2581.0,400.4h3.4v3.7h-3.4zM2595.1,400.4h3.4v3.7h-3.4zM2609.1,400.4h3.4v3.7h-3.4zM2623.2,400.4h3.4v3.7h-3.4zM2637.2,400.4h3.4v3.7h-3.4zM2651.3,400.4h3.4v3.7h-3.4zM2665.4,400.4h3.4v3.7h-3.4zM2679.4,400.4h3.4v3.7h-3.4zM2693.5,400.4h3.4v3.7h-3.4zM2707.5,400.4h3.4v3.7h-3.4zM2721.6,400.4h3.4v3.7h-3.4zM2735.7,400.4h3.4v3.7h-3.4zM2749.7,400.4h3.4v3.7h-3.4zM2763.8,400.4h3.4v3.7h-3.4zM2777.8,400.4h3.4v3.7h-3.4zM2503.7,404.4h3.4v3.7h-3.4zM2517.7,404.4h3.4v3.7h-3.4zM2531.8,404.4h3.4v3.7h-3.4zM2545.9,404.4h3.4v3.7h-3.4zM2559.9,404.4h3.4v3.7h-3.4zM2574.0,404.4h3.4v3.7h-3.4zM2588.0,404.4h3.4v3.7h-3.4zM2602.1,404.4h3.4v3.7h-3.4zM2616.2,404.4h3.4v3.7h-3.4zM2630.2,404.4h3.4v3.7h-3.4zM2644.3,404.4h3.4v3.7h-3.4zM2658.3,404.4h3.4v3.7h-3.4zM2672.4,404.4h3.4v3.7h-3.4zM2686.5,404.4h3.4v3.7h-3.4zM2700.5,404.4h3.4v3.7h-3.4zM2714.6,404.4h3.4v3.7h-3.4zM2728.6,404.4h3.4v3.7h-3.4zM2742.7,404.4h3.4v3.7h-3.4zM2756.8,404.4h3.4v3.7h-3.4zM2770.8,404.4h3.4v3.7h-3.4zM2784.9,404.4h3.4v3.7h-3.4zM2510.7,408.3h3.4v3.7h-3.4zM2524.8,408.3h3.4v3.7h-3.4zM2538.8,408.3h3.4v3.7h-3.4zM2552.9,408.3h3.4v3.7h-3.4zM2566.9,408.3h3.4v3.7h-3.4zM2581.0,408.3h3.4v3.7h-3.4zM2595.1,408.3h3.4v3.7h-3.4zM2609.1,408.3h3.4v3.7h-3.4zM2623.2,408.3h3.4v3.7h-3.4zM2637.2,408.3h3.4v3.7h-3.4zM2651.3,408.3h3.4v3.7h-3.4zM2665.4,408.3h3.4v3.7h-3.4zM2679.4,408.3h3.4v3.7h-3.4zM2693.5,408.3h3.4v3.7h-3.4zM2707.5,408.3h3.4v3.7h-3.4zM2721.6,408.3h3.4v3.7h-3.4zM2735.7,408.3h3.4v3.7h-3.4zM2749.7,408.3h3.4v3.7h-3.4zM2763.8,408.3h3.4v3.7h-3.4zM2777.8,408.3h3.4v3.7h-3.4zM2503.7,412.2h3.4v3.7h-3.4zM2517.7,412.2h3.4v3.7h-3.4zM2531.8,412.2h3.4v3.7h-3.4zM2545.9,412.2h3.4v3.7h-3.4zM2559.9,412.2h3.4v3.7h-3.4zM2574.0,412.2h3.4v3.7h-3.4zM2588.0,412.2h3.4v3.7h-3.4zM2602.1,412.2h3.4v3.7h-3.4zM2616.2,412.2h3.4v3.7h-3.4zM2630.2,412.2h3.4v3.7h-3.4zM2644.3,412.2h3.4v3.7h-3.4zM2658.3,412.2h3.4v3.7h-3.4zM2672.4,412.2h3.4v3.7h-3.4zM2686.5,412.2h3.4v3.7h-3.4zM2700.5,412.2h3.4v3.7h-3.4zM2714.6,412.2h3.4v3.7h-3.4zM2728.6,412.2h3.4v3.7h-3.4zM2742.7,412.2h3.4v3.7h-3.4zM2756.8,412.2h3.4v3.7h-3.4zM2770.8,412.2h3.4v3.7h-3.4zM2784.9,412.2h3.4v3.7h-3.4zM2510.7,416.1h3.4v3.7h-3.4zM2524.8,416.1h3.4v3.7h-3.4zM2538.8,416.1h3.4v3.7h-3.4zM2552.9,416.1h3.4v3.7h-3.4zM2566.9,416.1h3.4v3.7h-3.4zM2581.0,416.1h3.4v3.7h-3.4zM2595.1,416.1h3.4v3.7h-3.4zM2609.1,416.1h3.4v3.7h-3.4zM2623.2,416.1h3.4v3.7h-3.4zM2637.2,416.1h3.4v3.7h-3.4zM2651.3,416.1h3.4v3.7h-3.4zM2665.4,416.1h3.4v3.7h-3.4zM2679.4,416.1h3.4v3.7h-3.4zM2693.5,416.1h3.4v3.7h-3.4zM2707.5,416.1h3.4v3.7h-3.4zM2721.6,416.1h3.4v3.7h-3.4zM2735.7,416.1h3.4v3.7h-3.4zM2749.7,416.1h3.4v3.7h-3.4zM2763.8,416.1h3.4v3.7h-3.4zM2777.8,416.1h3.4v3.7h-3.4zM2517.7,420.0h3.4v3.7h-3.4zM2531.8,420.0h3.4v3.7h-3.4zM2545.9,420.0h3.4v3.7h-3.4zM2559.9,420.0h3.4v3.7h-3.4zM2574.0,420.0h3.4v3.7h-3.4zM2588.0,420.0h3.4v3.7h-3.4zM2602.1,420.0h3.4v3.7h-3.4zM2616.2,420.0h3.4v3.7h-3.4zM2630.2,420.0h3.4v3.7h-3.4zM2644.3,420.0h3.4v3.7h-3.4zM2658.3,420.0h3.4v3.7h-3.4zM2672.4,420.0h3.4v3.7h-3.4zM2686.5,420.0h3.4v3.7h-3.4zM2700.5,420.0h3.4v3.7h-3.4zM2714.6,420.0h3.4v3.7h-3.4zM2728.6,420.0h3.4v3.7h-3.4zM2742.7,420.0h3.4v3.7h-3.4zM2756.8,420.0h3.4v3.7h-3.4zM2770.8,420.0h3.4v3.7h-3.4zM2524.8,423.9h3.4v3.7h-3.4zM2538.8,423.9h3.4v3.7h-3.4zM2552.9,423.9h3.4v3.7h-3.4zM2566.9,423.9h3.4v3.7h-3.4zM2581.0,423.9h3.4v3.7h-3.4zM2595.1,423.9h3.4v3.7h-3.4zM2609.1,423.9h3.4v3.7h-3.4zM2623.2,423.9h3.4v3.7h-3.4zM2637.2,423.9h3.4v3.7h-3.4zM2651.3,423.9h3.4v3.7h-3.4zM2665.4,423.9h3.4v3.7h-3.4zM2679.4,423.9h3.4v3.7h-3.4zM2693.5,423.9h3.4v3.7h-3.4zM2707.5,423.9h3.4v3.7h-3.4zM2721.6,423.9h3.4v3.7h-3.4zM2735.7,423.9h3.4v3.7h-3.4zM2749.7,423.9h3.4v3.7h-3.4zM2763.8,423.9h3.4v3.7h-3.4zM2531.8,427.9h3.4v3.7h-3.4zM2545.9,427.9h3.4v3.7h-3.4zM2559.9,427.9h3.4v3.7h-3.4zM2574.0,427.9h3.4v3.7h-3.4zM2588.0,427.9h3.4v3.7h-3.4zM2602.1,427.9h3.4v3.7h-3.4zM2616.2,427.9h3.4v3.7h-3.4zM2630.2,427.9h3.4v3.7h-3.4zM2644.3,427.9h3.4v3.7h-3.4zM2658.3,427.9h3.4v3.7h-3.4zM2672.4,427.9h3.4v3.7h-3.4zM2686.5,427.9h3.4v3.7h-3.4zM2700.5,427.9h3.4v3.7h-3.4zM2714.6,427.9h3.4v3.7h-3.4zM2728.6,427.9h3.4v3.7h-3.4zM2742.7,427.9h3.4v3.7h-3.4zM2756.8,427.9h3.4v3.7h-3.4zM2552.9,431.8h3.4v3.7h-3.4zM2566.9,431.8h3.4v3.7h-3.4zM2581.0,431.8h3.4v3.7h-3.4zM2595.1,431.8h3.4v3.7h-3.4zM2609.1,431.8h3.4v3.7h-3.4zM2623.2,431.8h3.4v3.7h-3.4zM2637.2,431.8h3.4v3.7h-3.4zM2651.3,431.8h3.4v3.7h-3.4zM2665.4,431.8h3.4v3.7h-3.4zM2679.4,431.8h3.4v3.7h-3.4zM2693.5,431.8h3.4v3.7h-3.4zM2707.5,431.8h3.4v3.7h-3.4zM2721.6,431.8h3.4v3.7h-3.4zM2735.7,431.8h3.4v3.7h-3.4zM2559.9,435.7h3.4v3.7h-3.4zM2574.0,435.7h3.4v3.7h-3.4zM2588.0,435.7h3.4v3.7h-3.4zM2602.1,435.7h3.4v3.7h-3.4zM2616.2,435.7h3.4v3.7h-3.4zM2630.2,435.7h3.4v3.7h-3.4zM2644.3,435.7h3.4v3.7h-3.4zM2658.3,435.7h3.4v3.7h-3.4zM2672.4,435.7h3.4v3.7h-3.4zM2686.5,435.7h3.4v3.7h-3.4zM2700.5,435.7h3.4v3.7h-3.4zM2714.6,435.7h3.4v3.7h-3.4zM2728.6,435.7h3.4v3.7h-3.4zM2595.1,439.6h3.4v3.7h-3.4zM2609.1,439.6h3.4v3.7h-3.4zM2623.2,439.6h3.4v3.7h-3.4zM2637.2,439.6h3.4v3.7h-3.4zM2651.3,439.6h3.4v3.7h-3.4zM2665.4,439.6h3.4v3.7h-3.4zM2679.4,439.6h3.4v3.7h-3.4zM2693.5,439.6h3.4v3.7h-3.4z" fill="#000"/><use href="#e3p" fill="none" stroke="#000" stroke-width="3.0" stroke-linejoin="round"/>
<rect x="2004.55" y="367.05" width="48.80" height="74.90" fill="#fff" stroke="#000" stroke-width="3.5"/>
<rect x="2067.85" y="367.05" width="47.40" height="74.90" fill="#fff" stroke="#000" stroke-width="3.5"/>
<rect x="2148.75" y="367.05" width="47.40" height="74.90" fill="#fff" stroke="#000" stroke-width="3.5"/>
<rect x="2233.05" y="367.05" width="47.50" height="74.90" fill="#fff" stroke="#000" stroke-width="3.5"/>
<rect x="2308.75" y="367.05" width="17.20" height="74.90" fill="#fff" stroke="#000" stroke-width="3.5"/>
<rect x="2338.45" y="367.05" width="19.20" height="74.90" fill="#fff" stroke="#000" stroke-width="3.5"/>
<line x1="2448.20" y1="355.60" x2="2407.90" y2="430.00" stroke="#000" stroke-width="3.2" />
<line x1="2457.20" y1="370.70" x2="2416.50" y2="445.10" stroke="#000" stroke-width="3.2" />
<rect x="2816.85" y="367.05" width="46.80" height="74.90" fill="#fff" stroke="#000" stroke-width="3.5"/>
<rect x="2893.95" y="369.05" width="48.50" height="72.90" fill="#fff" stroke="#000" stroke-width="3.5"/>
<rect x="2959.35" y="369.05" width="46.80" height="72.90" fill="#fff" stroke="#000" stroke-width="3.5"/>
<rect x="3055.75" y="369.05" width="47.50" height="72.90" fill="#fff" stroke="#000" stroke-width="3.5"/>
<path d="M974.6,469.9 C977.5,472.7 986.0,481.0 991.8,486.6 C997.6,492.2 1002.2,499.0 1009.4,503.3 C1016.6,507.6 1028.2,509.0 1034.8,512.4 C1041.4,515.8 1043.1,520.6 1049.2,523.6 C1055.3,526.6 1063.7,528.1 1071.4,530.4 C1079.1,532.7 1088.4,535.4 1095.3,537.6 C1102.2,539.9 1103.5,542.4 1112.8,543.9 C1122.1,545.4 1139.8,545.3 1151.0,546.8 C1162.2,548.3 1170.1,552.7 1179.7,552.7 C1189.3,552.8 1199.9,549.2 1208.4,547.1 C1216.9,545.0 1225.8,542.2 1230.7,540.0 C1235.6,537.8 1236.6,535.1 1237.8,534.1" fill="none" stroke="#000" stroke-width="3.3" stroke-linejoin="round"/>
<line x1="1241.00" y1="531.20" x2="1291.00" y2="487.80" stroke="#000" stroke-width="3.4" />
<polygon points="1306.80,471.50 1280.30,479.00 1295.60,498.60" fill="#000" stroke="none" stroke-width="0"/>
<line x1="491.20" y1="510.90" x2="1140.00" y2="643.40" stroke="#000" stroke-width="3.2" />
<polygon points="1158.00,647.20 1138.20,631.20 1133.50,656.10" fill="#000" stroke="none" stroke-width="0"/>
<line x1="1312.20" y1="554.00" x2="1312.20" y2="642.00" stroke="#000" stroke-width="3.2" />
<polygon points="1312.20,665.80 1300.20,639.30 1324.40,639.30" fill="#000" stroke="none" stroke-width="0"/>
<line x1="1169.50" y1="764.70" x2="1408.90" y2="764.70" stroke="#000" stroke-width="3.5" />
<rect x="1275.25" y="723.65" width="48.90" height="74.90" fill="#a6a6a6" stroke="#000" stroke-width="3.5"/>
<rect x="1273.5" y="721.9" width="20.5" height="78.4" fill="#000"/>
<line x1="1312.20" y1="951.00" x2="1312.20" y2="1238.00" stroke="#000" stroke-width="3.2" />
<polygon points="1312.20,1261.20 1300.20,1235.60 1324.20,1235.60" fill="#000" stroke="none" stroke-width="0"/>
<line x1="1470.00" y1="1376.10" x2="1985.00" y2="1376.10" stroke="#000" stroke-width="3.6" />
<polygon points="1453.10,1376.10 1477.00,1362.60 1477.00,1389.60" fill="#000" stroke="none" stroke-width="0"/>
<polygon points="2003.60,1376.10 1979.60,1362.60 1979.60,1389.60" fill="#000" stroke="none" stroke-width="0"/>
<clipPath id="tc"><rect x="0" y="1200" width="1324.3" height="300"/></clipPath>
<polygon clip-path="url(#tc)" points="380.6,1292.1 380.6,1421.7 1314.9,1359.7" fill="#cdfcf0" stroke="#000" stroke-width="3.4" stroke-miterlimit="40"/>
<line x1="380.80" y1="1428.00" x2="380.80" y2="1512.00" stroke="#000" stroke-width="3.4" />
<polygon points="380.80,1535.30 368.40,1509.50 393.20,1509.50" fill="#000" stroke="none" stroke-width="0"/>
<line x1="656.50" y1="1441.80" x2="656.50" y2="1525.00" stroke="#000" stroke-width="3.4" />
<polygon points="656.60,1548.70 644.40,1522.20 668.80,1522.20" fill="#000" stroke="none" stroke-width="0"/>
<path d="M1795.7,1689.3 C1900,1740 2050,1800.8 2173.8,1800.8 C2290,1800.8 2440,1735 2559.3,1690 L2590,1667" fill="none" stroke="#000" stroke-width="3.0"/>
<polygon points="2605.80,1654.90 2581.10,1659.00 2594.80,1679.00" fill="#000" stroke="none" stroke-width="0"/>
<line x1="125.80" y1="1615.20" x2="2376.00" y2="1615.20" stroke="#000" stroke-width="3.5" />
<line x1="2395.50" y1="1615.20" x2="3130.80" y2="1615.20" stroke="#000" stroke-width="3.5" />
<defs><path id="e4p" d="M322.7,1615.3L322.7,1616.9L322.5,1618.4L322.3,1619.8L322.0,1621.1L321.6,1622.5L321.1,1623.8L320.5,1625.0L319.8,1626.3L319.1,1627.5L318.2,1628.7L317.3,1629.8L316.3,1630.9L315.2,1632.0L314.0,1633.1L312.8,1634.1L311.5,1635.1L310.1,1636.0L308.6,1636.9L307.1,1637.7L305.5,1638.6L303.8,1639.3L302.1,1640.1L300.3,1640.7L298.4,1641.4L296.5,1642.0L294.5,1642.5L292.5,1643.0L290.4,1643.4L288.3,1643.8L286.1,1644.2L283.9,1644.4L281.6,1644.7L279.3,1644.9L276.9,1645.0L274.4,1645.1L271.6,1645.1L268.8,1645.1L266.3,1645.0L263.9,1644.9L261.6,1644.7L259.3,1644.4L257.1,1644.2L254.9,1643.8L252.8,1643.4L250.7,1643.0L248.7,1642.5L246.7,1642.0L244.8,1641.4L242.9,1640.7L241.1,1640.1L239.4,1639.3L237.7,1638.6L236.1,1637.7L234.6,1636.9L233.1,1636.0L231.7,1635.1L230.4,1634.1L229.2,1633.1L228.0,1632.0L226.9,1630.9L225.9,1629.8L225.0,1628.7L224.1,1627.5L223.4,1626.3L222.7,1625.0L222.1,1623.8L221.6,1622.5L221.2,1621.1L220.9,1619.8L220.7,1618.4L220.5,1616.9L220.5,1615.3L220.5,1613.7L220.7,1612.2L220.9,1610.8L221.2,1609.5L221.6,1608.1L222.1,1606.8L222.7,1605.6L223.4,1604.3L224.1,1603.1L225.0,1601.9L225.9,1600.8L226.9,1599.7L228.0,1598.6L229.2,1597.5L230.4,1596.5L231.7,1595.5L233.1,1594.6L234.6,1593.7L236.1,1592.9L237.7,1592.0L239.4,1591.3L241.1,1590.5L242.9,1589.9L244.8,1589.2L246.7,1588.6L248.7,1588.1L250.7,1587.6L252.8,1587.2L254.9,1586.8L257.1,1586.4L259.3,1586.2L261.6,1585.9L263.9,1585.7L266.3,1585.6L268.8,1585.5L271.6,1585.5L274.4,1585.5L276.9,1585.6L279.3,1585.7L281.6,1585.9L283.9,1586.2L286.1,1586.4L288.3,1586.8L290.4,1587.2L292.5,1587.6L294.5,1588.1L296.5,1588.6L298.4,1589.2L300.3,1589.9L302.1,1590.5L303.8,1591.3L305.5,1592.0L307.1,1592.9L308.6,1593.7L310.1,1594.6L311.5,1595.5L312.8,1596.5L314.0,1597.5L315.2,1598.6L316.3,1599.7L317.3,1600.8L318.2,1601.9L319.1,1603.1L319.8,1604.3L320.5,1605.6L321.1,1606.8L321.6,1608.1L322.0,1609.5L322.3,1610.8L322.5,1612.2L322.7,1613.7Z"/><clipPath id="e4"><use href="#e4p"/></clipPath></defs><use href="#e4p" fill="#fff"/><path clip-path="url(#e4)" d="M247.0,1584.3h3.4v3.7h-3.4zM261.1,1584.3h3.4v3.7h-3.4zM275.2,1584.3h3.4v3.7h-3.4zM289.2,1584.3h3.4v3.7h-3.4zM240.0,1588.2h3.4v3.7h-3.4zM254.1,1588.2h3.4v3.7h-3.4zM268.1,1588.2h3.4v3.7h-3.4zM282.2,1588.2h3.4v3.7h-3.4zM296.3,1588.2h3.4v3.7h-3.4zM233.0,1592.1h3.4v3.7h-3.4zM247.0,1592.1h3.4v3.7h-3.4zM261.1,1592.1h3.4v3.7h-3.4zM275.2,1592.1h3.4v3.7h-3.4zM289.2,1592.1h3.4v3.7h-3.4zM303.3,1592.1h3.4v3.7h-3.4zM225.9,1596.0h3.4v3.7h-3.4zM240.0,1596.0h3.4v3.7h-3.4zM254.1,1596.0h3.4v3.7h-3.4zM268.1,1596.0h3.4v3.7h-3.4zM282.2,1596.0h3.4v3.7h-3.4zM296.3,1596.0h3.4v3.7h-3.4zM310.3,1596.0h3.4v3.7h-3.4zM233.0,1600.0h3.4v3.7h-3.4zM247.0,1600.0h3.4v3.7h-3.4zM261.1,1600.0h3.4v3.7h-3.4zM275.2,1600.0h3.4v3.7h-3.4zM289.2,1600.0h3.4v3.7h-3.4zM303.3,1600.0h3.4v3.7h-3.4zM317.3,1600.0h3.4v3.7h-3.4zM225.9,1603.9h3.4v3.7h-3.4zM240.0,1603.9h3.4v3.7h-3.4zM254.1,1603.9h3.4v3.7h-3.4zM268.1,1603.9h3.4v3.7h-3.4zM282.2,1603.9h3.4v3.7h-3.4zM296.3,1603.9h3.4v3.7h-3.4zM310.3,1603.9h3.4v3.7h-3.4zM218.9,1607.8h3.4v3.7h-3.4zM233.0,1607.8h3.4v3.7h-3.4zM247.0,1607.8h3.4v3.7h-3.4zM261.1,1607.8h3.4v3.7h-3.4zM275.2,1607.8h3.4v3.7h-3.4zM289.2,1607.8h3.4v3.7h-3.4zM303.3,1607.8h3.4v3.7h-3.4zM317.3,1607.8h3.4v3.7h-3.4zM225.9,1611.7h3.4v3.7h-3.4zM240.0,1611.7h3.4v3.7h-3.4zM254.1,1611.7h3.4v3.7h-3.4zM268.1,1611.7h3.4v3.7h-3.4zM282.2,1611.7h3.4v3.7h-3.4zM296.3,1611.7h3.4v3.7h-3.4zM310.3,1611.7h3.4v3.7h-3.4zM218.9,1615.6h3.4v3.7h-3.4zM233.0,1615.6h3.4v3.7h-3.4zM247.0,1615.6h3.4v3.7h-3.4zM261.1,1615.6h3.4v3.7h-3.4zM275.2,1615.6h3.4v3.7h-3.4zM289.2,1615.6h3.4v3.7h-3.4zM303.3,1615.6h3.4v3.7h-3.4zM317.3,1615.6h3.4v3.7h-3.4zM225.9,1619.6h3.4v3.7h-3.4zM240.0,1619.6h3.4v3.7h-3.4zM254.1,1619.6h3.4v3.7h-3.4zM268.1,1619.6h3.4v3.7h-3.4zM282.2,1619.6h3.4v3.7h-3.4zM296.3,1619.6h3.4v3.7h-3.4zM310.3,1619.6h3.4v3.7h-3.4zM218.9,1623.5h3.4v3.7h-3.4zM233.0,1623.5h3.4v3.7h-3.4zM247.0,1623.5h3.4v3.7h-3.4zM261.1,1623.5h3.4v3.7h-3.4zM275.2,1623.5h3.4v3.7h-3.4zM289.2,1623.5h3.4v3.7h-3.4zM303.3,1623.5h3.4v3.7h-3.4zM317.3,1623.5h3.4v3.7h-3.4zM225.9,1627.4h3.4v3.7h-3.4zM240.0,1627.4h3.4v3.7h-3.4zM254.1,1627.4h3.4v3.7h-3.4zM268.1,1627.4h3.4v3.7h-3.4zM282.2,1627.4h3.4v3.7h-3.4zM296.3,1627.4h3.4v3.7h-3.4zM310.3,1627.4h3.4v3.7h-3.4zM233.0,1631.3h3.4v3.7h-3.4zM247.0,1631.3h3.4v3.7h-3.4zM261.1,1631.3h3.4v3.7h-3.4zM275.2,1631.3h3.4v3.7h-3.4zM289.2,1631.3h3.4v3.7h-3.4zM303.3,1631.3h3.4v3.7h-3.4zM240.0,1635.2h3.4v3.7h-3.4zM254.1,1635.2h3.4v3.7h-3.4zM268.1,1635.2h3.4v3.7h-3.4zM282.2,1635.2h3.4v3.7h-3.4zM296.3,1635.2h3.4v3.7h-3.4zM310.3,1635.2h3.4v3.7h-3.4zM247.0,1639.2h3.4v3.7h-3.4zM261.1,1639.2h3.4v3.7h-3.4zM275.2,1639.2h3.4v3.7h-3.4zM289.2,1639.2h3.4v3.7h-3.4zM303.3,1639.2h3.4v3.7h-3.4zM254.1,1643.1h3.4v3.7h-3.4zM268.1,1643.1h3.4v3.7h-3.4zM282.2,1643.1h3.4v3.7h-3.4z" fill="#000"/><use href="#e4p" fill="none" stroke="#000" stroke-width="3.0" stroke-linejoin="round"/>
<path d="M380.6,1619 L380.6,1570 L447,1570" fill="none" stroke="#000" stroke-width="3.5"/>
<polygon points="470.00,1570.00 445.80,1556.40 445.80,1583.70" fill="#000" stroke="none" stroke-width="0"/>
<rect x="555.05" y="1577.95" width="47.10" height="75.10" fill="#fff" stroke="#000" stroke-width="3.5"/>
<rect x="698.95" y="1577.95" width="333.90" height="75.10" fill="#fff" stroke="#000" stroke-width="3.5"/>
<rect x="777.95" y="1573.95" width="17.50" height="75.70" fill="#d9d9f5" stroke="#000" stroke-width="3.5"/>
<rect x="869.35" y="1573.95" width="33.30" height="75.70" fill="#f5c242" stroke="#000" stroke-width="3.5"/>
<rect x="985.15" y="1573.95" width="17.60" height="75.70" fill="#000" stroke="#000" stroke-width="3.5"/>
<rect x="1008.05" y="1573.95" width="33.30" height="75.10" fill="#a6a6a6" stroke="#000" stroke-width="3.5"/>
<defs><path id="e5p" d="M1561.4,1615.3L1561.4,1617.0L1561.2,1618.4L1561.0,1619.8L1560.7,1621.1L1560.3,1622.5L1559.8,1623.8L1559.2,1625.0L1558.6,1626.2L1557.9,1627.4L1557.0,1628.6L1556.1,1629.8L1555.2,1630.9L1554.1,1631.9L1552.9,1633.0L1551.7,1634.0L1550.4,1634.9L1549.1,1635.9L1547.6,1636.8L1546.1,1637.6L1544.6,1638.4L1542.9,1639.2L1541.3,1639.9L1539.5,1640.6L1537.7,1641.2L1535.8,1641.8L1533.9,1642.3L1531.9,1642.8L1529.9,1643.2L1527.8,1643.6L1525.7,1644.0L1523.5,1644.2L1521.3,1644.5L1519.0,1644.7L1516.7,1644.8L1514.2,1644.9L1511.5,1644.9L1508.8,1644.9L1506.3,1644.8L1504.0,1644.7L1501.7,1644.5L1499.5,1644.2L1497.3,1644.0L1495.2,1643.6L1493.1,1643.2L1491.1,1642.8L1489.1,1642.3L1487.2,1641.8L1485.3,1641.2L1483.5,1640.6L1481.7,1639.9L1480.1,1639.2L1478.4,1638.4L1476.9,1637.6L1475.4,1636.8L1473.9,1635.9L1472.6,1634.9L1471.3,1634.0L1470.1,1633.0L1468.9,1631.9L1467.8,1630.9L1466.9,1629.8L1466.0,1628.6L1465.1,1627.4L1464.4,1626.2L1463.8,1625.0L1463.2,1623.8L1462.7,1622.5L1462.3,1621.1L1462.0,1619.8L1461.8,1618.4L1461.6,1617.0L1461.6,1615.3L1461.6,1613.7L1461.8,1612.3L1462.0,1610.9L1462.3,1609.6L1462.7,1608.2L1463.2,1606.9L1463.8,1605.7L1464.4,1604.5L1465.1,1603.3L1466.0,1602.1L1466.9,1600.9L1467.8,1599.8L1468.9,1598.8L1470.1,1597.7L1471.3,1596.7L1472.6,1595.8L1473.9,1594.8L1475.4,1593.9L1476.9,1593.1L1478.4,1592.3L1480.1,1591.5L1481.7,1590.8L1483.5,1590.1L1485.3,1589.5L1487.2,1588.9L1489.1,1588.4L1491.1,1587.9L1493.1,1587.5L1495.2,1587.1L1497.3,1586.7L1499.5,1586.5L1501.7,1586.2L1504.0,1586.0L1506.3,1585.9L1508.8,1585.8L1511.5,1585.8L1514.2,1585.8L1516.7,1585.9L1519.0,1586.0L1521.3,1586.2L1523.5,1586.5L1525.7,1586.7L1527.8,1587.1L1529.9,1587.5L1531.9,1587.9L1533.9,1588.4L1535.8,1588.9L1537.7,1589.5L1539.5,1590.1L1541.3,1590.8L1542.9,1591.5L1544.6,1592.3L1546.1,1593.1L1547.6,1593.9L1549.1,1594.8L1550.4,1595.8L1551.7,1596.7L1552.9,1597.7L1554.1,1598.8L1555.2,1599.8L1556.1,1600.9L1557.0,1602.1L1557.9,1603.3L1558.6,1604.5L1559.2,1605.7L1559.8,1606.9L1560.3,1608.2L1560.7,1609.6L1561.0,1610.9L1561.2,1612.3L1561.4,1613.7Z"/><clipPath id="e5"><use href="#e5p"/></clipPath></defs><use href="#e5p" fill="#fff"/><path clip-path="url(#e5)" d="M1498.4,1584.3h3.4v3.7h-3.4zM1512.4,1584.3h3.4v3.7h-3.4zM1526.5,1584.3h3.4v3.7h-3.4zM1477.3,1588.2h3.4v3.7h-3.4zM1491.3,1588.2h3.4v3.7h-3.4zM1505.4,1588.2h3.4v3.7h-3.4zM1519.5,1588.2h3.4v3.7h-3.4zM1533.5,1588.2h3.4v3.7h-3.4zM1470.3,1592.1h3.4v3.7h-3.4zM1484.3,1592.1h3.4v3.7h-3.4zM1498.4,1592.1h3.4v3.7h-3.4zM1512.4,1592.1h3.4v3.7h-3.4zM1526.5,1592.1h3.4v3.7h-3.4zM1540.6,1592.1h3.4v3.7h-3.4zM1477.3,1596.0h3.4v3.7h-3.4zM1491.3,1596.0h3.4v3.7h-3.4zM1505.4,1596.0h3.4v3.7h-3.4zM1519.5,1596.0h3.4v3.7h-3.4zM1533.5,1596.0h3.4v3.7h-3.4zM1547.6,1596.0h3.4v3.7h-3.4zM1470.3,1600.0h3.4v3.7h-3.4zM1484.3,1600.0h3.4v3.7h-3.4zM1498.4,1600.0h3.4v3.7h-3.4zM1512.4,1600.0h3.4v3.7h-3.4zM1526.5,1600.0h3.4v3.7h-3.4zM1540.6,1600.0h3.4v3.7h-3.4zM1554.6,1600.0h3.4v3.7h-3.4zM1463.2,1603.9h3.4v3.7h-3.4zM1477.3,1603.9h3.4v3.7h-3.4zM1491.3,1603.9h3.4v3.7h-3.4zM1505.4,1603.9h3.4v3.7h-3.4zM1519.5,1603.9h3.4v3.7h-3.4zM1533.5,1603.9h3.4v3.7h-3.4zM1547.6,1603.9h3.4v3.7h-3.4zM1470.3,1607.8h3.4v3.7h-3.4zM1484.3,1607.8h3.4v3.7h-3.4zM1498.4,1607.8h3.4v3.7h-3.4zM1512.4,1607.8h3.4v3.7h-3.4zM1526.5,1607.8h3.4v3.7h-3.4zM1540.6,1607.8h3.4v3.7h-3.4zM1554.6,1607.8h3.4v3.7h-3.4zM1463.2,1611.7h3.4v3.7h-3.4zM1477.3,1611.7h3.4v3.7h-3.4zM1491.3,1611.7h3.4v3.7h-3.4zM1505.4,1611.7h3.4v3.7h-3.4zM1519.5,1611.7h3.4v3.7h-3.4zM1533.5,1611.7h3.4v3.7h-3.4zM1547.6,1611.7h3.4v3.7h-3.4zM1561.6,1611.7h3.4v3.7h-3.4zM1470.3,1615.6h3.4v3.7h-3.4zM1484.3,1615.6h3.4v3.7h-3.4zM1498.4,1615.6h3.4v3.7h-3.4zM1512.4,1615.6h3.4v3.7h-3.4zM1526.5,1615.6h3.4v3.7h-3.4zM1540.6,1615.6h3.4v3.7h-3.4zM1554.6,1615.6h3.4v3.7h-3.4zM1463.2,1619.6h3.4v3.7h-3.4zM1477.3,1619.6h3.4v3.7h-3.4zM1491.3,1619.6h3.4v3.7h-3.4zM1505.4,1619.6h3.4v3.7h-3.4zM1519.5,1619.6h3.4v3.7h-3.4zM1533.5,1619.6h3.4v3.7h-3.4zM1547.6,1619.6h3.4v3.7h-3.4zM1561.6,1619.6h3.4v3.7h-3.4zM1470.3,1623.5h3.4v3.7h-3.4zM1484.3,1623.5h3.4v3.7h-3.4zM1498.4,1623.5h3.4v3.7h-3.4zM1512.4,1623.5h3.4v3.7h-3.4zM1526.5,1623.5h3.4v3.7h-3.4zM1540.6,1623.5h3.4v3.7h-3.4zM1554.6,1623.5h3.4v3.7h-3.4zM1463.2,1627.4h3.4v3.7h-3.4zM1477.3,1627.4h3.4v3.7h-3.4zM1491.3,1627.4h3.4v3.7h-3.4zM1505.4,1627.4h3.4v3.7h-3.4zM1519.5,1627.4h3.4v3.7h-3.4zM1533.5,1627.4h3.4v3.7h-3.4zM1547.6,1627.4h3.4v3.7h-3.4zM1470.3,1631.3h3.4v3.7h-3.4zM1484.3,1631.3h3.4v3.7h-3.4zM1498.4,1631.3h3.4v3.7h-3.4zM1512.4,1631.3h3.4v3.7h-3.4zM1526.5,1631.3h3.4v3.7h-3.4zM1540.6,1631.3h3.4v3.7h-3.4zM1477.3,1635.2h3.4v3.7h-3.4zM1491.3,1635.2h3.4v3.7h-3.4zM1505.4,1635.2h3.4v3.7h-3.4zM1519.5,1635.2h3.4v3.7h-3.4zM1533.5,1635.2h3.4v3.7h-3.4zM1547.6,1635.2h3.4v3.7h-3.4zM1484.3,1639.2h3.4v3.7h-3.4zM1498.4,1639.2h3.4v3.7h-3.4zM1512.4,1639.2h3.4v3.7h-3.4zM1526.5,1639.2h3.4v3.7h-3.4zM1540.6,1639.2h3.4v3.7h-3.4zM1491.3,1643.1h3.4v3.7h-3.4zM1505.4,1643.1h3.4v3.7h-3.4zM1519.5,1643.1h3.4v3.7h-3.4z" fill="#000"/><use href="#e5p" fill="none" stroke="#000" stroke-width="3.0" stroke-linejoin="round"/>
<path d="M1582.3,1615 L1582.3,1561.9 L1651,1561.9" fill="none" stroke="#000" stroke-width="3.5"/>
<polygon points="1673.50,1561.90 1649.40,1548.70 1649.40,1575.30" fill="#000" stroke="none" stroke-width="0"/>
<defs><path id="e6p" d="M1939.5,1615.3L1939.4,1617.3L1939.0,1619.2L1938.4,1620.9L1937.5,1622.7L1936.3,1624.3L1934.9,1626.0L1933.3,1627.6L1931.4,1629.1L1929.3,1630.6L1927.0,1632.1L1924.4,1633.6L1921.5,1635.0L1918.5,1636.3L1915.2,1637.7L1911.7,1638.9L1908.0,1640.2L1904.1,1641.3L1900.0,1642.5L1895.7,1643.5L1891.1,1644.6L1886.5,1645.5L1881.6,1646.4L1876.5,1647.3L1871.3,1648.1L1866.0,1648.8L1860.4,1649.5L1854.8,1650.1L1848.9,1650.7L1843.0,1651.2L1836.8,1651.6L1830.6,1652.0L1824.2,1652.3L1817.6,1652.5L1810.9,1652.7L1803.8,1652.8L1796.1,1652.8L1788.3,1652.8L1781.2,1652.7L1774.5,1652.5L1767.9,1652.3L1761.5,1652.0L1755.3,1651.6L1749.1,1651.2L1743.2,1650.7L1737.3,1650.1L1731.7,1649.5L1726.1,1648.8L1720.8,1648.1L1715.6,1647.3L1710.5,1646.4L1705.6,1645.5L1701.0,1644.6L1696.4,1643.5L1692.1,1642.5L1688.0,1641.3L1684.1,1640.2L1680.4,1638.9L1676.9,1637.7L1673.6,1636.3L1670.6,1635.0L1667.7,1633.6L1665.1,1632.1L1662.8,1630.6L1660.7,1629.1L1658.8,1627.6L1657.2,1626.0L1655.8,1624.3L1654.6,1622.7L1653.7,1620.9L1653.1,1619.2L1652.7,1617.3L1652.6,1615.3L1652.7,1613.3L1653.1,1611.4L1653.7,1609.7L1654.6,1607.9L1655.8,1606.3L1657.2,1604.6L1658.8,1603.0L1660.7,1601.5L1662.8,1600.0L1665.1,1598.5L1667.7,1597.0L1670.6,1595.6L1673.6,1594.3L1676.9,1592.9L1680.4,1591.7L1684.1,1590.4L1688.0,1589.3L1692.1,1588.1L1696.4,1587.1L1701.0,1586.0L1705.6,1585.1L1710.5,1584.2L1715.6,1583.3L1720.8,1582.5L1726.1,1581.8L1731.7,1581.1L1737.3,1580.5L1743.2,1579.9L1749.1,1579.4L1755.3,1579.0L1761.5,1578.6L1767.9,1578.3L1774.5,1578.1L1781.2,1577.9L1788.3,1577.8L1796.0,1577.8L1803.8,1577.8L1810.9,1577.9L1817.6,1578.1L1824.2,1578.3L1830.6,1578.6L1836.8,1579.0L1843.0,1579.4L1848.9,1579.9L1854.8,1580.5L1860.4,1581.1L1866.0,1581.8L1871.3,1582.5L1876.5,1583.3L1881.6,1584.2L1886.5,1585.1L1891.1,1586.0L1895.7,1587.1L1900.0,1588.1L1904.1,1589.3L1908.0,1590.4L1911.7,1591.7L1915.2,1592.9L1918.5,1594.3L1921.5,1595.6L1924.4,1597.0L1927.0,1598.5L1929.3,1600.0L1931.4,1601.5L1933.3,1603.0L1934.9,1604.6L1936.3,1606.3L1937.5,1607.9L1938.4,1609.7L1939.0,1611.4L1939.4,1613.3Z"/><clipPath id="e6"><use href="#e6p"/></clipPath></defs><use href="#e6p" fill="#fff"/><path clip-path="url(#e6)" d="M1737.4,1576.4h3.4v3.7h-3.4zM1751.5,1576.4h3.4v3.7h-3.4zM1765.5,1576.4h3.4v3.7h-3.4zM1779.6,1576.4h3.4v3.7h-3.4zM1793.6,1576.4h3.4v3.7h-3.4zM1807.7,1576.4h3.4v3.7h-3.4zM1821.8,1576.4h3.4v3.7h-3.4zM1835.8,1576.4h3.4v3.7h-3.4zM1849.9,1576.4h3.4v3.7h-3.4zM1716.3,1580.3h3.4v3.7h-3.4zM1730.4,1580.3h3.4v3.7h-3.4zM1744.4,1580.3h3.4v3.7h-3.4zM1758.5,1580.3h3.4v3.7h-3.4zM1772.5,1580.3h3.4v3.7h-3.4zM1786.6,1580.3h3.4v3.7h-3.4zM1800.7,1580.3h3.4v3.7h-3.4zM1814.7,1580.3h3.4v3.7h-3.4zM1828.8,1580.3h3.4v3.7h-3.4zM1842.8,1580.3h3.4v3.7h-3.4zM1856.9,1580.3h3.4v3.7h-3.4zM1871.0,1580.3h3.4v3.7h-3.4zM1695.2,1584.3h3.4v3.7h-3.4zM1709.3,1584.3h3.4v3.7h-3.4zM1723.3,1584.3h3.4v3.7h-3.4zM1737.4,1584.3h3.4v3.7h-3.4zM1751.5,1584.3h3.4v3.7h-3.4zM1765.5,1584.3h3.4v3.7h-3.4zM1779.6,1584.3h3.4v3.7h-3.4zM1793.6,1584.3h3.4v3.7h-3.4zM1807.7,1584.3h3.4v3.7h-3.4zM1821.8,1584.3h3.4v3.7h-3.4zM1835.8,1584.3h3.4v3.7h-3.4zM1849.9,1584.3h3.4v3.7h-3.4zM1863.9,1584.3h3.4v3.7h-3.4zM1878.0,1584.3h3.4v3.7h-3.4zM1892.1,1584.3h3.4v3.7h-3.4zM1688.2,1588.2h3.4v3.7h-3.4zM1702.2,1588.2h3.4v3.7h-3.4zM1716.3,1588.2h3.4v3.7h-3.4zM1730.4,1588.2h3.4v3.7h-3.4zM1744.4,1588.2h3.4v3.7h-3.4zM1758.5,1588.2h3.4v3.7h-3.4zM1772.5,1588.2h3.4v3.7h-3.4zM1786.6,1588.2h3.4v3.7h-3.4zM1800.7,1588.2h3.4v3.7h-3.4zM1814.7,1588.2h3.4v3.7h-3.4zM1828.8,1588.2h3.4v3.7h-3.4zM1842.8,1588.2h3.4v3.7h-3.4zM1856.9,1588.2h3.4v3.7h-3.4zM1871.0,1588.2h3.4v3.7h-3.4zM1885.0,1588.2h3.4v3.7h-3.4zM1899.1,1588.2h3.4v3.7h-3.4zM1681.2,1592.1h3.4v3.7h-3.4zM1695.2,1592.1h3.4v3.7h-3.4zM1709.3,1592.1h3.4v3.7h-3.4zM1723.3,1592.1h3.4v3.7h-3.4zM1737.4,1592.1h3.4v3.7h-3.4zM1751.5,1592.1h3.4v3.7h-3.4zM1765.5,1592.1h3.4v3.7h-3.4zM1779.6,1592.1h3.4v3.7h-3.4zM1793.6,1592.1h3.4v3.7h-3.4zM1807.7,1592.1h3.4v3.7h-3.4zM1821.8,1592.1h3.4v3.7h-3.4zM1835.8,1592.1h3.4v3.7h-3.4zM1849.9,1592.1h3.4v3.7h-3.4zM1863.9,1592.1h3.4v3.7h-3.4zM1878.0,1592.1h3.4v3.7h-3.4zM1892.1,1592.1h3.4v3.7h-3.4zM1906.1,1592.1h3.4v3.7h-3.4zM1674.1,1596.0h3.4v3.7h-3.4zM1688.2,1596.0h3.4v3.7h-3.4zM1702.2,1596.0h3.4v3.7h-3.4zM1716.3,1596.0h3.4v3.7h-3.4zM1730.4,1596.0h3.4v3.7h-3.4zM1744.4,1596.0h3.4v3.7h-3.4zM1758.5,1596.0h3.4v3.7h-3.4zM1772.5,1596.0h3.4v3.7h-3.4zM1786.6,1596.0h3.4v3.7h-3.4zM1800.7,1596.0h3.4v3.7h-3.4zM1814.7,1596.0h3.4v3.7h-3.4zM1828.8,1596.0h3.4v3.7h-3.4zM1842.8,1596.0h3.4v3.7h-3.4zM1856.9,1596.0h3.4v3.7h-3.4zM1871.0,1596.0h3.4v3.7h-3.4zM1885.0,1596.0h3.4v3.7h-3.4zM1899.1,1596.0h3.4v3.7h-3.4zM1913.1,1596.0h3.4v3.7h-3.4zM1667.1,1600.0h3.4v3.7h-3.4zM1681.2,1600.0h3.4v3.7h-3.4zM1695.2,1600.0h3.4v3.7h-3.4zM1709.3,1600.0h3.4v3.7h-3.4zM1723.3,1600.0h3.4v3.7h-3.4zM1737.4,1600.0h3.4v3.7h-3.4zM1751.5,1600.0h3.4v3.7h-3.4zM1765.5,1600.0h3.4v3.7h-3.4zM1779.6,1600.0h3.4v3.7h-3.4zM1793.6,1600.0h3.4v3.7h-3.4zM1807.7,1600.0h3.4v3.7h-3.4zM1821.8,1600.0h3.4v3.7h-3.4zM1835.8,1600.0h3.4v3.7h-3.4zM1849.9,1600.0h3.4v3.7h-3.4zM1863.9,1600.0h3.4v3.7h-3.4zM1878.0,1600.0h3.4v3.7h-3.4zM1892.1,1600.0h3.4v3.7h-3.4zM1906.1,1600.0h3.4v3.7h-3.4zM1920.2,1600.0h3.4v3.7h-3.4zM1660.1,1603.9h3.4v3.7h-3.4zM1674.1,1603.9h3.4v3.7h-3.4zM1688.2,1603.9h3.4v3.7h-3.4zM1702.2,1603.9h3.4v3.7h-3.4zM1716.3,1603.9h3.4v3.7h-3.4zM1730.4,1603.9h3.4v3.7h-3.4zM1744.4,1603.9h3.4v3.7h-3.4zM1758.5,1603.9h3.4v3.7h-3.4zM1772.5,1603.9h3.4v3.7h-3.4zM1786.6,1603.9h3.4v3.7h-3.4zM1800.7,1603.9h3.4v3.7h-3.4zM1814.7,1603.9h3.4v3.7h-3.4zM1828.8,1603.9h3.4v3.7h-3.4zM1842.8,1603.9h3.4v3.7h-3.4zM1856.9,1603.9h3.4v3.7h-3.4zM1871.0,1603.9h3.4v3.7h-3.4zM1885.0,1603.9h3.4v3.7h-3.4zM1899.1,1603.9h3.4v3.7h-3.4zM1913.1,1603.9h3.4v3.7h-3.4zM1927.2,1603.9h3.4v3.7h-3.4zM1653.0,1607.8h3.4v3.7h-3.4zM1667.1,1607.8h3.4v3.7h-3.4zM1681.2,1607.8h3.4v3.7h-3.4zM1695.2,1607.8h3.4v3.7h-3.4zM1709.3,1607.8h3.4v3.7h-3.4zM1723.3,1607.8h3.4v3.7h-3.4zM1737.4,1607.8h3.4v3.7h-3.4zM1751.5,1607.8h3.4v3.7h-3.4zM1765.5,1607.8h3.4v3.7h-3.4zM1779.6,1607.8h3.4v3.7h-3.4zM1793.6,1607.8h3.4v3.7h-3.4zM1807.7,1607.8h3.4v3.7h-3.4zM1821.8,1607.8h3.4v3.7h-3.4zM1835.8,1607.8h3.4v3.7h-3.4zM1849.9,1607.8h3.4v3.7h-3.4zM1863.9,1607.8h3.4v3.7h-3.4zM1878.0,1607.8h3.4v3.7h-3.4zM1892.1,1607.8h3.4v3.7h-3.4zM1906.1,1607.8h3.4v3.7h-3.4zM1920.2,1607.8h3.4v3.7h-3.4zM1934.2,1607.8h3.4v3.7h-3.4zM1660.1,1611.7h3.4v3.7h-3.4zM1674.1,1611.7h3.4v3.7h-3.4zM1688.2,1611.7h3.4v3.7h-3.4zM1702.2,1611.7h3.4v3.7h-3.4zM1716.3,1611.7h3.4v3.7h-3.4zM1730.4,1611.7h3.4v3.7h-3.4zM1744.4,1611.7h3.4v3.7h-3.4zM1758.5,1611.7h3.4v3.7h-3.4zM1772.5,1611.7h3.4v3.7h-3.4zM1786.6,1611.7h3.4v3.7h-3.4zM1800.7,1611.7h3.4v3.7h-3.4zM1814.7,1611.7h3.4v3.7h-3.4zM1828.8,1611.7h3.4v3.7h-3.4zM1842.8,1611.7h3.4v3.7h-3.4zM1856.9,1611.7h3.4v3.7h-3.4zM1871.0,1611.7h3.4v3.7h-3.4zM1885.0,1611.7h3.4v3.7h-3.4zM1899.1,1611.7h3.4v3.7h-3.4zM1913.1,1611.7h3.4v3.7h-3.4zM1927.2,1611.7h3.4v3.7h-3.4zM1653.0,1615.6h3.4v3.7h-3.4zM1667.1,1615.6h3.4v3.7h-3.4zM1681.2,1615.6h3.4v3.7h-3.4zM1695.2,1615.6h3.4v3.7h-3.4zM1709.3,1615.6h3.4v3.7h-3.4zM1723.3,1615.6h3.4v3.7h-3.4zM1737.4,1615.6h3.4v3.7h-3.4zM1751.5,1615.6h3.4v3.7h-3.4zM1765.5,1615.6h3.4v3.7h-3.4zM1779.6,1615.6h3.4v3.7h-3.4zM1793.6,1615.6h3.4v3.7h-3.4zM1807.7,1615.6h3.4v3.7h-3.4zM1821.8,1615.6h3.4v3.7h-3.4zM1835.8,1615.6h3.4v3.7h-3.4zM1849.9,1615.6h3.4v3.7h-3.4zM1863.9,1615.6h3.4v3.7h-3.4zM1878.0,1615.6h3.4v3.7h-3.4zM1892.1,1615.6h3.4v3.7h-3.4zM1906.1,1615.6h3.4v3.7h-3.4zM1920.2,1615.6h3.4v3.7h-3.4zM1934.2,1615.6h3.4v3.7h-3.4zM1660.1,1619.6h3.4v3.7h-3.4zM1674.1,1619.6h3.4v3.7h-3.4zM1688.2,1619.6h3.4v3.7h-3.4zM1702.2,1619.6h3.4v3.7h-3.4zM1716.3,1619.6h3.4v3.7h-3.4zM1730.4,1619.6h3.4v3.7h-3.4zM1744.4,1619.6h3.4v3.7h-3.4zM1758.5,1619.6h3.4v3.7h-3.4zM1772.5,1619.6h3.4v3.7h-3.4zM1786.6,1619.6h3.4v3.7h-3.4zM1800.7,1619.6h3.4v3.7h-3.4zM1814.7,1619.6h3.4v3.7h-3.4zM1828.8,1619.6h3.4v3.7h-3.4zM1842.8,1619.6h3.4v3.7h-3.4zM1856.9,1619.6h3.4v3.7h-3.4zM1871.0,1619.6h3.4v3.7h-3.4zM1885.0,1619.6h3.4v3.7h-3.4zM1899.1,1619.6h3.4v3.7h-3.4zM1913.1,1619.6h3.4v3.7h-3.4zM1927.2,1619.6h3.4v3.7h-3.4zM1653.0,1623.5h3.4v3.7h-3.4zM1667.1,1623.5h3.4v3.7h-3.4zM1681.2,1623.5h3.4v3.7h-3.4zM1695.2,1623.5h3.4v3.7h-3.4zM1709.3,1623.5h3.4v3.7h-3.4zM1723.3,1623.5h3.4v3.7h-3.4zM1737.4,1623.5h3.4v3.7h-3.4zM1751.5,1623.5h3.4v3.7h-3.4zM1765.5,1623.5h3.4v3.7h-3.4zM1779.6,1623.5h3.4v3.7h-3.4zM1793.6,1623.5h3.4v3.7h-3.4zM1807.7,1623.5h3.4v3.7h-3.4zM1821.8,1623.5h3.4v3.7h-3.4zM1835.8,1623.5h3.4v3.7h-3.4zM1849.9,1623.5h3.4v3.7h-3.4zM1863.9,1623.5h3.4v3.7h-3.4zM1878.0,1623.5h3.4v3.7h-3.4zM1892.1,1623.5h3.4v3.7h-3.4zM1906.1,1623.5h3.4v3.7h-3.4zM1920.2,1623.5h3.4v3.7h-3.4zM1934.2,1623.5h3.4v3.7h-3.4zM1660.1,1627.4h3.4v3.7h-3.4zM1674.1,1627.4h3.4v3.7h-3.4zM1688.2,1627.4h3.4v3.7h-3.4zM1702.2,1627.4h3.4v3.7h-3.4zM1716.3,1627.4h3.4v3.7h-3.4zM1730.4,1627.4h3.4v3.7h-3.4zM1744.4,1627.4h3.4v3.7h-3.4zM1758.5,1627.4h3.4v3.7h-3.4zM1772.5,1627.4h3.4v3.7h-3.4zM1786.6,1627.4h3.4v3.7h-3.4zM1800.7,1627.4h3.4v3.7h-3.4zM1814.7,1627.4h3.4v3.7h-3.4zM1828.8,1627.4h3.4v3.7h-3.4zM1842.8,1627.4h3.4v3.7h-3.4zM1856.9,1627.4h3.4v3.7h-3.4zM1871.0,1627.4h3.4v3.7h-3.4zM1885.0,1627.4h3.4v3.7h-3.4zM1899.1,1627.4h3.4v3.7h-3.4zM1913.1,1627.4h3.4v3.7h-3.4zM1927.2,1627.4h3.4v3.7h-3.4zM1667.1,1631.3h3.4v3.7h-3.4zM1681.2,1631.3h3.4v3.7h-3.4zM1695.2,1631.3h3.4v3.7h-3.4zM1709.3,1631.3h3.4v3.7h-3.4zM1723.3,1631.3h3.4v3.7h-3.4zM1737.4,1631.3h3.4v3.7h-3.4zM1751.5,1631.3h3.4v3.7h-3.4zM1765.5,1631.3h3.4v3.7h-3.4zM1779.6,1631.3h3.4v3.7h-3.4zM1793.6,1631.3h3.4v3.7h-3.4zM1807.7,1631.3h3.4v3.7h-3.4zM1821.8,1631.3h3.4v3.7h-3.4zM1835.8,1631.3h3.4v3.7h-3.4zM1849.9,1631.3h3.4v3.7h-3.4zM1863.9,1631.3h3.4v3.7h-3.4zM1878.0,1631.3h3.4v3.7h-3.4zM1892.1,1631.3h3.4v3.7h-3.4zM1906.1,1631.3h3.4v3.7h-3.4zM1920.2,1631.3h3.4v3.7h-3.4zM1674.1,1635.2h3.4v3.7h-3.4zM1688.2,1635.2h3.4v3.7h-3.4zM1702.2,1635.2h3.4v3.7h-3.4zM1716.3,1635.2h3.4v3.7h-3.4zM1730.4,1635.2h3.4v3.7h-3.4zM1744.4,1635.2h3.4v3.7h-3.4zM1758.5,1635.2h3.4v3.7h-3.4zM1772.5,1635.2h3.4v3.7h-3.4zM1786.6,1635.2h3.4v3.7h-3.4zM1800.7,1635.2h3.4v3.7h-3.4zM1814.7,1635.2h3.4v3.7h-3.4zM1828.8,1635.2h3.4v3.7h-3.4zM1842.8,1635.2h3.4v3.7h-3.4zM1856.9,1635.2h3.4v3.7h-3.4zM1871.0,1635.2h3.4v3.7h-3.4zM1885.0,1635.2h3.4v3.7h-3.4zM1899.1,1635.2h3.4v3.7h-3.4zM1913.1,1635.2h3.4v3.7h-3.4zM1695.2,1639.2h3.4v3.7h-3.4zM1709.3,1639.2h3.4v3.7h-3.4zM1723.3,1639.2h3.4v3.7h-3.4zM1737.4,1639.2h3.4v3.7h-3.4zM1751.5,1639.2h3.4v3.7h-3.4zM1765.5,1639.2h3.4v3.7h-3.4zM1779.6,1639.2h3.4v3.7h-3.4zM1793.6,1639.2h3.4v3.7h-3.4zM1807.7,1639.2h3.4v3.7h-3.4zM1821.8,1639.2h3.4v3.7h-3.4zM1835.8,1639.2h3.4v3.7h-3.4zM1849.9,1639.2h3.4v3.7h-3.4zM1863.9,1639.2h3.4v3.7h-3.4zM1878.0,1639.2h3.4v3.7h-3.4zM1892.1,1639.2h3.4v3.7h-3.4zM1906.1,1639.2h3.4v3.7h-3.4zM1702.2,1643.1h3.4v3.7h-3.4zM1716.3,1643.1h3.4v3.7h-3.4zM1730.4,1643.1h3.4v3.7h-3.4zM1744.4,1643.1h3.4v3.7h-3.4zM1758.5,1643.1h3.4v3.7h-3.4zM1772.5,1643.1h3.4v3.7h-3.4zM1786.6,1643.1h3.4v3.7h-3.4zM1800.7,1643.1h3.4v3.7h-3.4zM1814.7,1643.1h3.4v3.7h-3.4zM1828.8,1643.1h3.4v3.7h-3.4zM1842.8,1643.1h3.4v3.7h-3.4zM1856.9,1643.1h3.4v3.7h-3.4zM1871.0,1643.1h3.4v3.7h-3.4zM1885.0,1643.1h3.4v3.7h-3.4zM1723.3,1647.0h3.4v3.7h-3.4zM1737.4,1647.0h3.4v3.7h-3.4zM1751.5,1647.0h3.4v3.7h-3.4zM1765.5,1647.0h3.4v3.7h-3.4zM1779.6,1647.0h3.4v3.7h-3.4zM1793.6,1647.0h3.4v3.7h-3.4zM1807.7,1647.0h3.4v3.7h-3.4zM1821.8,1647.0h3.4v3.7h-3.4zM1835.8,1647.0h3.4v3.7h-3.4zM1849.9,1647.0h3.4v3.7h-3.4zM1863.9,1647.0h3.4v3.7h-3.4zM1744.4,1650.9h3.4v3.7h-3.4zM1758.5,1650.9h3.4v3.7h-3.4zM1772.5,1650.9h3.4v3.7h-3.4zM1786.6,1650.9h3.4v3.7h-3.4zM1800.7,1650.9h3.4v3.7h-3.4zM1814.7,1650.9h3.4v3.7h-3.4zM1828.8,1650.9h3.4v3.7h-3.4zM1842.8,1650.9h3.4v3.7h-3.4z" fill="#000"/><use href="#e6p" fill="none" stroke="#000" stroke-width="3.0" stroke-linejoin="round"/>
<rect x="1987.25" y="1577.95" width="47.10" height="75.10" fill="#fff" stroke="#000" stroke-width="3.5"/>
<rect x="2050.25" y="1577.95" width="46.00" height="75.10" fill="#fff" stroke="#000" stroke-width="3.5"/>
<rect x="2129.35" y="1577.95" width="48.90" height="75.10" fill="#fff" stroke="#000" stroke-width="3.5"/>
<rect x="2213.75" y="1577.95" width="48.80" height="75.10" fill="#fff" stroke="#000" stroke-width="3.5"/>
<rect x="2289.15" y="1577.95" width="17.10" height="75.10" fill="#fff" stroke="#000" stroke-width="3.5"/>
<rect x="2320.45" y="1577.95" width="17.80" height="75.10" fill="#fff" stroke="#000" stroke-width="3.5"/>
<path d="M2386.5,1592.9 L2361.4,1647 L2368.5,1649.5" fill="none" stroke="#000" stroke-width="2.2"/>
<line x1="2401.60" y1="1604.60" x2="2382.00" y2="1645.90" stroke="#000" stroke-width="2.2" />
<path d="M2415.4,1615 L2415.4,1561.9 L2483,1561.9" fill="none" stroke="#000" stroke-width="3.5"/>
<polygon points="2504.90,1561.90 2481.20,1548.70 2481.20,1575.30" fill="#000" stroke="none" stroke-width="0"/>
<defs><path id="e7p" d="M2770.6,1615.3L2770.5,1617.3L2770.1,1619.2L2769.5,1620.9L2768.6,1622.7L2767.4,1624.3L2766.1,1626.0L2764.4,1627.6L2762.6,1629.1L2760.4,1630.6L2758.1,1632.1L2755.5,1633.6L2752.7,1635.0L2749.6,1636.3L2746.4,1637.7L2742.9,1638.9L2739.2,1640.2L2735.3,1641.3L2731.2,1642.5L2726.9,1643.5L2722.4,1644.6L2717.7,1645.5L2712.8,1646.4L2707.8,1647.3L2702.6,1648.1L2697.3,1648.8L2691.7,1649.5L2686.1,1650.1L2680.3,1650.7L2674.3,1651.2L2668.2,1651.6L2662.0,1652.0L2655.6,1652.3L2649.1,1652.5L2642.3,1652.7L2635.3,1652.8L2627.6,1652.8L2619.8,1652.8L2612.8,1652.7L2606.0,1652.5L2599.5,1652.3L2593.1,1652.0L2586.9,1651.6L2580.8,1651.2L2574.8,1650.7L2569.0,1650.1L2563.4,1649.5L2557.8,1648.8L2552.5,1648.1L2547.3,1647.3L2542.3,1646.4L2537.4,1645.5L2532.7,1644.6L2528.2,1643.5L2523.9,1642.5L2519.8,1641.3L2515.9,1640.2L2512.2,1638.9L2508.7,1637.7L2505.5,1636.3L2502.4,1635.0L2499.6,1633.6L2497.0,1632.1L2494.7,1630.6L2492.5,1629.1L2490.7,1627.6L2489.0,1626.0L2487.7,1624.3L2486.5,1622.7L2485.6,1620.9L2485.0,1619.2L2484.6,1617.3L2484.5,1615.3L2484.6,1613.3L2485.0,1611.4L2485.6,1609.7L2486.5,1607.9L2487.7,1606.3L2489.0,1604.6L2490.7,1603.0L2492.5,1601.5L2494.7,1600.0L2497.0,1598.5L2499.6,1597.0L2502.4,1595.6L2505.5,1594.3L2508.7,1592.9L2512.2,1591.7L2515.9,1590.4L2519.8,1589.3L2523.9,1588.1L2528.2,1587.1L2532.7,1586.0L2537.4,1585.1L2542.3,1584.2L2547.3,1583.3L2552.5,1582.5L2557.8,1581.8L2563.4,1581.1L2569.0,1580.5L2574.8,1579.9L2580.8,1579.4L2586.9,1579.0L2593.1,1578.6L2599.5,1578.3L2606.0,1578.1L2612.8,1577.9L2619.8,1577.8L2627.5,1577.8L2635.3,1577.8L2642.3,1577.9L2649.1,1578.1L2655.6,1578.3L2662.0,1578.6L2668.2,1579.0L2674.3,1579.4L2680.3,1579.9L2686.1,1580.5L2691.7,1581.1L2697.3,1581.8L2702.6,1582.5L2707.8,1583.3L2712.8,1584.2L2717.7,1585.1L2722.4,1586.0L2726.9,1587.1L2731.2,1588.1L2735.3,1589.3L2739.2,1590.4L2742.9,1591.7L2746.4,1592.9L2749.6,1594.3L2752.7,1595.6L2755.5,1597.0L2758.1,1598.5L2760.4,1600.0L2762.6,1601.5L2764.4,1603.0L2766.1,1604.6L2767.4,1606.3L2768.6,1607.9L2769.5,1609.7L2770.1,1611.4L2770.5,1613.3Z"/><clipPath id="e7"><use href="#e7p"/></clipPath></defs><use href="#e7p" fill="#fff"/><path clip-path="url(#e7)" d="M2566.9,1576.4h3.4v3.7h-3.4zM2581.0,1576.4h3.4v3.7h-3.4zM2595.1,1576.4h3.4v3.7h-3.4zM2609.1,1576.4h3.4v3.7h-3.4zM2623.2,1576.4h3.4v3.7h-3.4zM2637.2,1576.4h3.4v3.7h-3.4zM2651.3,1576.4h3.4v3.7h-3.4zM2665.4,1576.4h3.4v3.7h-3.4zM2679.4,1576.4h3.4v3.7h-3.4zM2545.9,1580.3h3.4v3.7h-3.4zM2559.9,1580.3h3.4v3.7h-3.4zM2574.0,1580.3h3.4v3.7h-3.4zM2588.0,1580.3h3.4v3.7h-3.4zM2602.1,1580.3h3.4v3.7h-3.4zM2616.2,1580.3h3.4v3.7h-3.4zM2630.2,1580.3h3.4v3.7h-3.4zM2644.3,1580.3h3.4v3.7h-3.4zM2658.3,1580.3h3.4v3.7h-3.4zM2672.4,1580.3h3.4v3.7h-3.4zM2686.5,1580.3h3.4v3.7h-3.4zM2700.5,1580.3h3.4v3.7h-3.4zM2524.8,1584.3h3.4v3.7h-3.4zM2538.8,1584.3h3.4v3.7h-3.4zM2552.9,1584.3h3.4v3.7h-3.4zM2566.9,1584.3h3.4v3.7h-3.4zM2581.0,1584.3h3.4v3.7h-3.4zM2595.1,1584.3h3.4v3.7h-3.4zM2609.1,1584.3h3.4v3.7h-3.4zM2623.2,1584.3h3.4v3.7h-3.4zM2637.2,1584.3h3.4v3.7h-3.4zM2651.3,1584.3h3.4v3.7h-3.4zM2665.4,1584.3h3.4v3.7h-3.4zM2679.4,1584.3h3.4v3.7h-3.4zM2693.5,1584.3h3.4v3.7h-3.4zM2707.5,1584.3h3.4v3.7h-3.4zM2721.6,1584.3h3.4v3.7h-3.4zM2517.7,1588.2h3.4v3.7h-3.4zM2531.8,1588.2h3.4v3.7h-3.4zM2545.9,1588.2h3.4v3.7h-3.4zM2559.9,1588.2h3.4v3.7h-3.4zM2574.0,1588.2h3.4v3.7h-3.4zM2588.0,1588.2h3.4v3.7h-3.4zM2602.1,1588.2h3.4v3.7h-3.4zM2616.2,1588.2h3.4v3.7h-3.4zM2630.2,1588.2h3.4v3.7h-3.4zM2644.3,1588.2h3.4v3.7h-3.4zM2658.3,1588.2h3.4v3.7h-3.4zM2672.4,1588.2h3.4v3.7h-3.4zM2686.5,1588.2h3.4v3.7h-3.4zM2700.5,1588.2h3.4v3.7h-3.4zM2714.6,1588.2h3.4v3.7h-3.4zM2728.6,1588.2h3.4v3.7h-3.4zM2510.7,1592.1h3.4v3.7h-3.4zM2524.8,1592.1h3.4v3.7h-3.4zM2538.8,1592.1h3.4v3.7h-3.4zM2552.9,1592.1h3.4v3.7h-3.4zM2566.9,1592.1h3.4v3.7h-3.4zM2581.0,1592.1h3.4v3.7h-3.4zM2595.1,1592.1h3.4v3.7h-3.4zM2609.1,1592.1h3.4v3.7h-3.4zM2623.2,1592.1h3.4v3.7h-3.4zM2637.2,1592.1h3.4v3.7h-3.4zM2651.3,1592.1h3.4v3.7h-3.4zM2665.4,1592.1h3.4v3.7h-3.4zM2679.4,1592.1h3.4v3.7h-3.4zM2693.5,1592.1h3.4v3.7h-3.4zM2707.5,1592.1h3.4v3.7h-3.4zM2721.6,1592.1h3.4v3.7h-3.4zM2735.7,1592.1h3.4v3.7h-3.4zM2749.7,1592.1h3.4v3.7h-3.4zM2503.7,1596.0h3.4v3.7h-3.4zM2517.7,1596.0h3.4v3.7h-3.4zM2531.8,1596.0h3.4v3.7h-3.4zM2545.9,1596.0h3.4v3.7h-3.4zM2559.9,1596.0h3.4v3.7h-3.4zM2574.0,1596.0h3.4v3.7h-3.4zM2588.0,1596.0h3.4v3.7h-3.4zM2602.1,1596.0h3.4v3.7h-3.4zM2616.2,1596.0h3.4v3.7h-3.4zM2630.2,1596.0h3.4v3.7h-3.4zM2644.3,1596.0h3.4v3.7h-3.4zM2658.3,1596.0h3.4v3.7h-3.4zM2672.4,1596.0h3.4v3.7h-3.4zM2686.5,1596.0h3.4v3.7h-3.4zM2700.5,1596.0h3.4v3.7h-3.4zM2714.6,1596.0h3.4v3.7h-3.4zM2728.6,1596.0h3.4v3.7h-3.4zM2742.7,1596.0h3.4v3.7h-3.4zM2756.8,1596.0h3.4v3.7h-3.4zM2496.6,1600.0h3.4v3.7h-3.4zM2510.7,1600.0h3.4v3.7h-3.4zM2524.8,1600.0h3.4v3.7h-3.4zM2538.8,1600.0h3.4v3.7h-3.4zM2552.9,1600.0h3.4v3.7h-3.4zM2566.9,1600.0h3.4v3.7h-3.4zM2581.0,1600.0h3.4v3.7h-3.4zM2595.1,1600.0h3.4v3.7h-3.4zM2609.1,1600.0h3.4v3.7h-3.4zM2623.2,1600.0h3.4v3.7h-3.4zM2637.2,1600.0h3.4v3.7h-3.4zM2651.3,1600.0h3.4v3.7h-3.4zM2665.4,1600.0h3.4v3.7h-3.4zM2679.4,1600.0h3.4v3.7h-3.4zM2693.5,1600.0h3.4v3.7h-3.4zM2707.5,1600.0h3.4v3.7h-3.4zM2721.6,1600.0h3.4v3.7h-3.4zM2735.7,1600.0h3.4v3.7h-3.4zM2749.7,1600.0h3.4v3.7h-3.4zM2489.6,1603.9h3.4v3.7h-3.4zM2503.7,1603.9h3.4v3.7h-3.4zM2517.7,1603.9h3.4v3.7h-3.4zM2531.8,1603.9h3.4v3.7h-3.4zM2545.9,1603.9h3.4v3.7h-3.4zM2559.9,1603.9h3.4v3.7h-3.4zM2574.0,1603.9h3.4v3.7h-3.4zM2588.0,1603.9h3.4v3.7h-3.4zM2602.1,1603.9h3.4v3.7h-3.4zM2616.2,1603.9h3.4v3.7h-3.4zM2630.2,1603.9h3.4v3.7h-3.4zM2644.3,1603.9h3.4v3.7h-3.4zM2658.3,1603.9h3.4v3.7h-3.4zM2672.4,1603.9h3.4v3.7h-3.4zM2686.5,1603.9h3.4v3.7h-3.4zM2700.5,1603.9h3.4v3.7h-3.4zM2714.6,1603.9h3.4v3.7h-3.4zM2728.6,1603.9h3.4v3.7h-3.4zM2742.7,1603.9h3.4v3.7h-3.4zM2756.8,1603.9h3.4v3.7h-3.4zM2482.6,1607.8h3.4v3.7h-3.4zM2496.6,1607.8h3.4v3.7h-3.4zM2510.7,1607.8h3.4v3.7h-3.4zM2524.8,1607.8h3.4v3.7h-3.4zM2538.8,1607.8h3.4v3.7h-3.4zM2552.9,1607.8h3.4v3.7h-3.4zM2566.9,1607.8h3.4v3.7h-3.4zM2581.0,1607.8h3.4v3.7h-3.4zM2595.1,1607.8h3.4v3.7h-3.4zM2609.1,1607.8h3.4v3.7h-3.4zM2623.2,1607.8h3.4v3.7h-3.4zM2637.2,1607.8h3.4v3.7h-3.4zM2651.3,1607.8h3.4v3.7h-3.4zM2665.4,1607.8h3.4v3.7h-3.4zM2679.4,1607.8h3.4v3.7h-3.4zM2693.5,1607.8h3.4v3.7h-3.4zM2707.5,1607.8h3.4v3.7h-3.4zM2721.6,1607.8h3.4v3.7h-3.4zM2735.7,1607.8h3.4v3.7h-3.4zM2749.7,1607.8h3.4v3.7h-3.4zM2763.8,1607.8h3.4v3.7h-3.4zM2489.6,1611.7h3.4v3.7h-3.4zM2503.7,1611.7h3.4v3.7h-3.4zM2517.7,1611.7h3.4v3.7h-3.4zM2531.8,1611.7h3.4v3.7h-3.4zM2545.9,1611.7h3.4v3.7h-3.4zM2559.9,1611.7h3.4v3.7h-3.4zM2574.0,1611.7h3.4v3.7h-3.4zM2588.0,1611.7h3.4v3.7h-3.4zM2602.1,1611.7h3.4v3.7h-3.4zM2616.2,1611.7h3.4v3.7h-3.4zM2630.2,1611.7h3.4v3.7h-3.4zM2644.3,1611.7h3.4v3.7h-3.4zM2658.3,1611.7h3.4v3.7h-3.4zM2672.4,1611.7h3.4v3.7h-3.4zM2686.5,1611.7h3.4v3.7h-3.4zM2700.5,1611.7h3.4v3.7h-3.4zM2714.6,1611.7h3.4v3.7h-3.4zM2728.6,1611.7h3.4v3.7h-3.4zM2742.7,1611.7h3.4v3.7h-3.4zM2756.8,1611.7h3.4v3.7h-3.4zM2770.8,1611.7h3.4v3.7h-3.4zM2482.6,1615.6h3.4v3.7h-3.4zM2496.6,1615.6h3.4v3.7h-3.4zM2510.7,1615.6h3.4v3.7h-3.4zM2524.8,1615.6h3.4v3.7h-3.4zM2538.8,1615.6h3.4v3.7h-3.4zM2552.9,1615.6h3.4v3.7h-3.4zM2566.9,1615.6h3.4v3.7h-3.4zM2581.0,1615.6h3.4v3.7h-3.4zM2595.1,1615.6h3.4v3.7h-3.4zM2609.1,1615.6h3.4v3.7h-3.4zM2623.2,1615.6h3.4v3.7h-3.4zM2637.2,1615.6h3.4v3.7h-3.4zM2651.3,1615.6h3.4v3.7h-3.4zM2665.4,1615.6h3.4v3.7h-3.4zM2679.4,1615.6h3.4v3.7h-3.4zM2693.5,1615.6h3.4v3.7h-3.4zM2707.5,1615.6h3.4v3.7h-3.4zM2721.6,1615.6h3.4v3.7h-3.4zM2735.7,1615.6h3.4v3.7h-3.4zM2749.7,1615.6h3.4v3.7h-3.4zM2763.8,1615.6h3.4v3.7h-3.4zM2489.6,1619.6h3.4v3.7h-3.4zM2503.7,1619.6h3.4v3.7h-3.4zM2517.7,1619.6h3.4v3.7h-3.4zM2531.8,1619.6h3.4v3.7h-3.4zM2545.9,1619.6h3.4v3.7h-3.4zM2559.9,1619.6h3.4v3.7h-3.4zM2574.0,1619.6h3.4v3.7h-3.4zM2588.0,1619.6h3.4v3.7h-3.4zM2602.1,1619.6h3.4v3.7h-3.4zM2616.2,1619.6h3.4v3.7h-3.4zM2630.2,1619.6h3.4v3.7h-3.4zM2644.3,1619.6h3.4v3.7h-3.4zM2658.3,1619.6h3.4v3.7h-3.4zM2672.4,1619.6h3.4v3.7h-3.4zM2686.5,1619.6h3.4v3.7h-3.4zM2700.5,1619.6h3.4v3.7h-3.4zM2714.6,1619.6h3.4v3.7h-3.4zM2728.6,1619.6h3.4v3.7h-3.4zM2742.7,1619.6h3.4v3.7h-3.4zM2756.8,1619.6h3.4v3.7h-3.4zM2496.6,1623.5h3.4v3.7h-3.4zM2510.7,1623.5h3.4v3.7h-3.4zM2524.8,1623.5h3.4v3.7h-3.4zM2538.8,1623.5h3.4v3.7h-3.4zM2552.9,1623.5h3.4v3.7h-3.4zM2566.9,1623.5h3.4v3.7h-3.4zM2581.0,1623.5h3.4v3.7h-3.4zM2595.1,1623.5h3.4v3.7h-3.4zM2609.1,1623.5h3.4v3.7h-3.4zM2623.2,1623.5h3.4v3.7h-3.4zM2637.2,1623.5h3.4v3.7h-3.4zM2651.3,1623.5h3.4v3.7h-3.4zM2665.4,1623.5h3.4v3.7h-3.4zM2679.4,1623.5h3.4v3.7h-3.4zM2693.5,1623.5h3.4v3.7h-3.4zM2707.5,1623.5h3.4v3.7h-3.4zM2721.6,1623.5h3.4v3.7h-3.4zM2735.7,1623.5h3.4v3.7h-3.4zM2749.7,1623.5h3.4v3.7h-3.4zM2763.8,1623.5h3.4v3.7h-3.4zM2489.6,1627.4h3.4v3.7h-3.4zM2503.7,1627.4h3.4v3.7h-3.4zM2517.7,1627.4h3.4v3.7h-3.4zM2531.8,1627.4h3.4v3.7h-3.4zM2545.9,1627.4h3.4v3.7h-3.4zM2559.9,1627.4h3.4v3.7h-3.4zM2574.0,1627.4h3.4v3.7h-3.4zM2588.0,1627.4h3.4v3.7h-3.4zM2602.1,1627.4h3.4v3.7h-3.4zM2616.2,1627.4h3.4v3.7h-3.4zM2630.2,1627.4h3.4v3.7h-3.4zM2644.3,1627.4h3.4v3.7h-3.4zM2658.3,1627.4h3.4v3.7h-3.4zM2672.4,1627.4h3.4v3.7h-3.4zM2686.5,1627.4h3.4v3.7h-3.4zM2700.5,1627.4h3.4v3.7h-3.4zM2714.6,1627.4h3.4v3.7h-3.4zM2728.6,1627.4h3.4v3.7h-3.4zM2742.7,1627.4h3.4v3.7h-3.4zM2756.8,1627.4h3.4v3.7h-3.4zM2496.6,1631.3h3.4v3.7h-3.4zM2510.7,1631.3h3.4v3.7h-3.4zM2524.8,1631.3h3.4v3.7h-3.4zM2538.8,1631.3h3.4v3.7h-3.4zM2552.9,1631.3h3.4v3.7h-3.4zM2566.9,1631.3h3.4v3.7h-3.4zM2581.0,1631.3h3.4v3.7h-3.4zM2595.1,1631.3h3.4v3.7h-3.4zM2609.1,1631.3h3.4v3.7h-3.4zM2623.2,1631.3h3.4v3.7h-3.4zM2637.2,1631.3h3.4v3.7h-3.4zM2651.3,1631.3h3.4v3.7h-3.4zM2665.4,1631.3h3.4v3.7h-3.4zM2679.4,1631.3h3.4v3.7h-3.4zM2693.5,1631.3h3.4v3.7h-3.4zM2707.5,1631.3h3.4v3.7h-3.4zM2721.6,1631.3h3.4v3.7h-3.4zM2735.7,1631.3h3.4v3.7h-3.4zM2749.7,1631.3h3.4v3.7h-3.4zM2503.7,1635.2h3.4v3.7h-3.4zM2517.7,1635.2h3.4v3.7h-3.4zM2531.8,1635.2h3.4v3.7h-3.4zM2545.9,1635.2h3.4v3.7h-3.4zM2559.9,1635.2h3.4v3.7h-3.4zM2574.0,1635.2h3.4v3.7h-3.4zM2588.0,1635.2h3.4v3.7h-3.4zM2602.1,1635.2h3.4v3.7h-3.4zM2616.2,1635.2h3.4v3.7h-3.4zM2630.2,1635.2h3.4v3.7h-3.4zM2644.3,1635.2h3.4v3.7h-3.4zM2658.3,1635.2h3.4v3.7h-3.4zM2672.4,1635.2h3.4v3.7h-3.4zM2686.5,1635.2h3.4v3.7h-3.4zM2700.5,1635.2h3.4v3.7h-3.4zM2714.6,1635.2h3.4v3.7h-3.4zM2728.6,1635.2h3.4v3.7h-3.4zM2742.7,1635.2h3.4v3.7h-3.4zM2524.8,1639.2h3.4v3.7h-3.4zM2538.8,1639.2h3.4v3.7h-3.4zM2552.9,1639.2h3.4v3.7h-3.4zM2566.9,1639.2h3.4v3.7h-3.4zM2581.0,1639.2h3.4v3.7h-3.4zM2595.1,1639.2h3.4v3.7h-3.4zM2609.1,1639.2h3.4v3.7h-3.4zM2623.2,1639.2h3.4v3.7h-3.4zM2637.2,1639.2h3.4v3.7h-3.4zM2651.3,1639.2h3.4v3.7h-3.4zM2665.4,1639.2h3.4v3.7h-3.4zM2679.4,1639.2h3.4v3.7h-3.4zM2693.5,1639.2h3.4v3.7h-3.4zM2707.5,1639.2h3.4v3.7h-3.4zM2721.6,1639.2h3.4v3.7h-3.4zM2735.7,1639.2h3.4v3.7h-3.4zM2531.8,1643.1h3.4v3.7h-3.4zM2545.9,1643.1h3.4v3.7h-3.4zM2559.9,1643.1h3.4v3.7h-3.4zM2574.0,1643.1h3.4v3.7h-3.4zM2588.0,1643.1h3.4v3.7h-3.4zM2602.1,1643.1h3.4v3.7h-3.4zM2616.2,1643.1h3.4v3.7h-3.4zM2630.2,1643.1h3.4v3.7h-3.4zM2644.3,1643.1h3.4v3.7h-3.4zM2658.3,1643.1h3.4v3.7h-3.4zM2672.4,1643.1h3.4v3.7h-3.4zM2686.5,1643.1h3.4v3.7h-3.4zM2700.5,1643.1h3.4v3.7h-3.4zM2714.6,1643.1h3.4v3.7h-3.4zM2552.9,1647.0h3.4v3.7h-3.4zM2566.9,1647.0h3.4v3.7h-3.4zM2581.0,1647.0h3.4v3.7h-3.4zM2595.1,1647.0h3.4v3.7h-3.4zM2609.1,1647.0h3.4v3.7h-3.4zM2623.2,1647.0h3.4v3.7h-3.4zM2637.2,1647.0h3.4v3.7h-3.4zM2651.3,1647.0h3.4v3.7h-3.4zM2665.4,1647.0h3.4v3.7h-3.4zM2679.4,1647.0h3.4v3.7h-3.4zM2693.5,1647.0h3.4v3.7h-3.4zM2707.5,1647.0h3.4v3.7h-3.4zM2574.0,1650.9h3.4v3.7h-3.4zM2588.0,1650.9h3.4v3.7h-3.4zM2602.1,1650.9h3.4v3.7h-3.4zM2616.2,1650.9h3.4v3.7h-3.4zM2630.2,1650.9h3.4v3.7h-3.4zM2644.3,1650.9h3.4v3.7h-3.4zM2658.3,1650.9h3.4v3.7h-3.4zM2672.4,1650.9h3.4v3.7h-3.4z" fill="#000"/><use href="#e7p" fill="none" stroke="#000" stroke-width="3.0" stroke-linejoin="round"/>
<rect x="2796.95" y="1577.95" width="47.40" height="75.10" fill="#fff" stroke="#000" stroke-width="3.5"/>
<rect x="2876.15" y="1577.95" width="47.40" height="75.10" fill="#fff" stroke="#000" stroke-width="3.5"/>
<rect x="2941.15" y="1577.95" width="47.50" height="75.10" fill="#fff" stroke="#000" stroke-width="3.5"/>
<rect x="3036.15" y="1577.95" width="47.50" height="75.10" fill="#fff" stroke="#000" stroke-width="3.5"/>
<line x1="400.00" y1="1873.40" x2="683.10" y2="1873.40" stroke="#000" stroke-width="3.6" />
<polygon points="381.20,1873.40 405.20,1860.10 405.20,1886.70" fill="#000" stroke="none" stroke-width="0"/>
<line x1="890.70" y1="1873.40" x2="1172.00" y2="1873.40" stroke="#000" stroke-width="3.6" />
<polygon points="1192.20,1873.40 1168.80,1860.10 1168.80,1886.70" fill="#000" stroke="none" stroke-width="0"/>
</g>
<g xml:space="preserve" opacity="0.999">
<text transform="translate(992.38,76.70) scale(0.8559,1)" font-size="77">Germline configuration</text>
<text transform="translate(134.27,299.80) scale(0.8579,1)" font-size="77">Germline VH segments</text>
<text transform="translate(886.56,246.50) scale(0.8419,1)" font-size="44">D  and J element clusters</text>
<text transform="translate(935.82,340.80) scale(0.8843,1)" font-size="77">D</text>
<text transform="translate(1172.00,340.80) scale(1.0000,1)" font-size="77">J</text>
<text transform="translate(1413.64,340.80) scale(0.8579,1)" font-size="77">Ei/MAR</text>
<text transform="translate(1745.92,340.80) scale(0.8709,1)" font-size="77">Su</text>
<text transform="translate(2079.97,340.80) scale(0.8826,1)" font-size="77">Cu</text>
<text transform="translate(2606.17,340.80) scale(0.9086,1)" font-size="77">S</text>
<text transform="translate(2640.39,340.80) scale(1.0067,1)" font-size="77" style="font-style:italic;font-weight:normal;stroke-width:1.8px">γ</text>
<text transform="translate(2891.00,340.80) scale(0.9000,1)" font-size="77">C</text>
<text transform="translate(2936.58,340.80) scale(1.0100,1)" font-size="77" style="font-style:italic;font-weight:normal;stroke-width:1.8px">γ</text>
<text transform="translate(2539.57,1776.20) scale(0.9086,1)" font-size="77">S</text>
<text transform="translate(2573.99,1776.60) scale(1.0067,1)" font-size="77" style="font-style:italic;font-weight:normal;stroke-width:1.8px">γ</text>
<text transform="translate(2872.80,1776.20) scale(0.9000,1)" font-size="77">C</text>
<text transform="translate(2918.38,1776.60) scale(1.0100,1)" font-size="77" style="font-style:italic;font-weight:normal;stroke-width:1.8px">γ</text>
<text transform="translate(72.75,646.80) scale(0.9259,1)" font-size="58" style="font-weight:normal">≥</text>
<text transform="translate(107.90,514.90) scale(0.8532,1)" font-size="44">~300 bp V</text>
<text transform="translate(115.90,565.70) scale(0.8521,1)" font-size="44">element</text>
<text transform="translate(106.39,642.70) scale(0.8786,1)" font-size="47">100 – 300 IGHV functional VH elements &amp;</text>
<text transform="translate(65.43,697.85) scale(0.8736,1)" font-size="47">pseudogenes VH elements upstream in the human</text>
<text transform="translate(65.42,753.00) scale(0.8772,1)" font-size="47">mouse genome respectively of D and L loci clusters.</text>
<text transform="translate(65.43,808.30) scale(0.8746,1)" font-size="47">Promoters, Leaders, recombination signal sequences</text>
<text transform="translate(64.55,863.40) scale(0.8738,1)" font-size="47">(RSS) embedded in each VH element  - spans about</text>
<text transform="translate(62.80,918.45) scale(0.8762,1)" font-size="47">1Mb  to  3 Mb in human and mouse genome</text>
<text transform="translate(1474.54,810.40) scale(0.8560,1)" font-size="77">DJ rearrangement</text>
<text transform="translate(1456.85,1058.40) scale(0.8521,1)" font-size="77">VDJ rearrangement</text>
<text transform="translate(2037.84,1059.00) scale(0.8780,1)" font-size="47">- in frame on productive allelic chromosome</text>
<text transform="translate(178.38,1052.50) scale(0.9111,1)" font-size="54">5’ Mutation Boundaries in mouse at H and L</text>
<text transform="translate(178.38,1115.80) scale(0.9116,1)" font-size="54">chain loci. Skewed somatic mutations in VDJ is</text>
<text transform="translate(178.38,1182.50) scale(0.9109,1)" font-size="54">shown from Tss and Leader intron Boundaries</text>
<text transform="translate(1612.01,1275.90) scale(0.8911,1)" font-size="56">~ 9 Kb</text>
<text transform="translate(721.18,1548.20) scale(0.9076,1)" font-size="36">CDR1</text>
<text transform="translate(828.29,1548.20) scale(0.9054,1)" font-size="36">CDR2</text>
<text transform="translate(972.88,1548.20) scale(0.9118,1)" font-size="36">CDR3</text>
<text transform="translate(325.22,1676.40) scale(0.8793,1)" font-size="56">Tss/Cap</text>
<text transform="translate(106.64,1776.70) scale(0.8606,1)" font-size="77">Promoter</text>
<text transform="translate(552.41,1776.70) scale(0.8936,1)" font-size="77">L</text>
<text transform="translate(658.45,1776.70) scale(0.8545,1)" font-size="77">Rearranged VDJ</text>
<text transform="translate(1136.19,1791.50) scale(0.9118,1)" font-size="46">H</text>
<text transform="translate(1169.66,1776.70) scale(0.8417,1)" font-size="77">4</text>
<text transform="translate(1347.35,1776.20) scale(0.8543,1)" font-size="77">Ei/MAR</text>
<text transform="translate(1726.78,1776.20) scale(0.8797,1)" font-size="77">Su</text>
<text transform="translate(2061.10,1776.20) scale(0.8761,1)" font-size="77">Cu</text>
<text transform="translate(734.91,1895.50) scale(0.8898,1)" font-size="56">~ 1 Kb</text>
<text transform="translate(1774.38,1889.00) scale(0.8549,1)" font-size="77">Class switch recombination</text>
<text transform="translate(610.58,2078.50) scale(0.8545,1)" font-size="77">Somatic VDJ Rearrangement – Substrate for  SHM and CSR</text>

</g>
</svg>
</body></html>
